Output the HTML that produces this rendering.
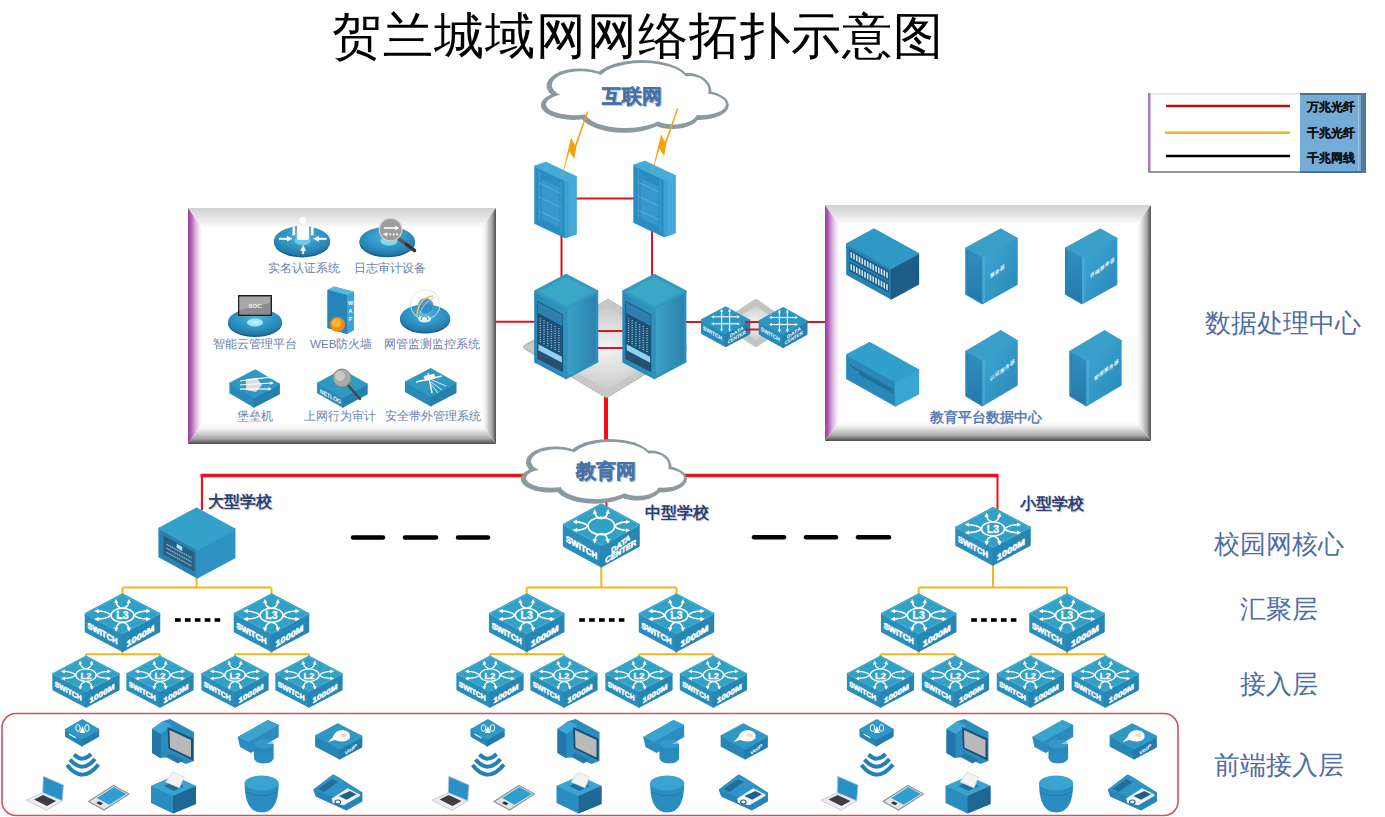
<!DOCTYPE html>
<html><head><meta charset="utf-8"><style>
html,body{margin:0;padding:0;background:#fff;width:1385px;height:817px;overflow:hidden}
svg{display:block}
text{font-family:"Liberation Sans",sans-serif}
</style></head><body>
<svg width="1385" height="817" viewBox="0 0 1385 817">

<defs>
<linearGradient id="gTop" x1="0" y1="0" x2="0" y2="1"><stop offset="0" stop-color="#d2d2d2"/><stop offset="0.35" stop-color="#e0e0e0"/><stop offset="0.75" stop-color="#f4f4f4"/><stop offset="1" stop-color="#fff" stop-opacity="0"/></linearGradient>
<linearGradient id="gLeft" x1="0" y1="0" x2="1" y2="0"><stop offset="0" stop-color="#98409c"/><stop offset="0.2" stop-color="#ad5cb2"/><stop offset="0.5" stop-color="#d8b4dc"/><stop offset="0.8" stop-color="#f6eef7"/><stop offset="1" stop-color="#fff" stop-opacity="0"/></linearGradient>
<linearGradient id="gRight" x1="0" y1="0" x2="1" y2="0"><stop offset="0" stop-color="#fff" stop-opacity="0"/><stop offset="0.35" stop-color="#ececec"/><stop offset="0.75" stop-color="#a6a6a6"/><stop offset="0.93" stop-color="#666"/><stop offset="1" stop-color="#4e4e4e"/></linearGradient>
<linearGradient id="gBot" x1="0" y1="0" x2="0" y2="1"><stop offset="0" stop-color="#fff" stop-opacity="0"/><stop offset="0.35" stop-color="#eeeeee"/><stop offset="0.75" stop-color="#a8a8a8"/><stop offset="0.92" stop-color="#676767"/><stop offset="1" stop-color="#4e4e4e"/></linearGradient>
<linearGradient id="gBolt" x1="0" y1="0" x2="0" y2="1"><stop offset="0" stop-color="#f6c23a"/><stop offset="1" stop-color="#f0900a"/></linearGradient>
<radialGradient id="gDiam" cx="0.5" cy="0.5" r="0.6"><stop offset="0" stop-color="#f4f4f4"/><stop offset="1" stop-color="#bdbdbd"/></radialGradient>
<radialGradient id="gEll" cx="0.5" cy="0.35" r="0.7"><stop offset="0" stop-color="#4fb3da"/><stop offset="0.6" stop-color="#2b8fbf"/><stop offset="1" stop-color="#1f6e9e"/></radialGradient>
<linearGradient id="gSrvR" x1="0" y1="0" x2="1" y2="0"><stop offset="0" stop-color="#3aa3c5"/><stop offset="1" stop-color="#2c80ae"/></linearGradient>
<linearGradient id="gSrvL" x1="0" y1="0" x2="1" y2="0"><stop offset="0" stop-color="#2a86b6"/><stop offset="1" stop-color="#2f95c0"/></linearGradient>
<linearGradient id="gTwR" x1="0" y1="0" x2="1" y2="1"><stop offset="0" stop-color="#3eaad5"/><stop offset="1" stop-color="#2a86b8"/></linearGradient>
<linearGradient id="gTwL" x1="0" y1="0" x2="0" y2="1"><stop offset="0" stop-color="#2f90c0"/><stop offset="1" stop-color="#2678aa"/></linearGradient>
<marker id="ah" viewBox="0 0 10 10" refX="5" refY="5" markerWidth="2.9" markerHeight="2.9" orient="auto-start-reverse"><path d="M0,0 L10,5 L0,10 z" fill="#fff"/></marker>
</defs>

<text x="332" y="53" font-size="50" font-weight="300" letter-spacing="1" fill="#000">贺兰城域网网络拓扑示意图</text>
<g fill="#4f6ea6" font-size="26" text-anchor="middle">
<text x="1283" y="332">数据处理中心</text>
<text x="1279" y="553">校园网核心</text>
<text x="1279" y="618">汇聚层</text>
<text x="1279" y="693">接入层</text>
<text x="1279" y="774">前端接入层</text>
</g>
<g>
<rect x="1148" y="93" width="218" height="80" fill="#fff"/>
<rect x="1148" y="93" width="152" height="1.5" fill="#e4e4e4"/>
<rect x="1148" y="93" width="2.5" height="80" fill="#a97cbb"/>
<rect x="1148" y="171" width="152" height="2" fill="#999"/>
<rect x="1300" y="93" width="66" height="80" fill="#74acd9"/>
<rect x="1300" y="93" width="66" height="2" fill="#4f7191"/>
<rect x="1300" y="171" width="66" height="2" fill="#4f7191"/>
<rect x="1361" y="93" width="5" height="80" fill="#5a7690"/><rect x="1358" y="95" width="1" height="76" fill="#9cc6e6"/>
<line x1="1166" y1="106" x2="1290" y2="106" stroke="#c00d0d" stroke-width="2.4"/>
<line x1="1165" y1="132.7" x2="1290" y2="132.7" stroke="#f2b224" stroke-width="2.4"/>
<line x1="1166" y1="156" x2="1290" y2="156" stroke="#000" stroke-width="2.4"/>
<g font-size="11.5" font-weight="bold" fill="#111" stroke="#111" stroke-width="0.25">
<text x="1307" y="110.5">万兆光纤</text>
<text x="1307" y="137">千兆光纤</text>
<text x="1307" y="161.5">千兆网线</text>
</g></g>
<rect x="188" y="208" width="308" height="236" fill="#fff"/><polygon points="188.0,208.0 496.0,208.0 480.0,230.0 203.0,230.0" fill="url(#gTop)"/><polygon points="496.0,208.0 496.0,444.0 480.0,422.0 480.0,230.0" fill="url(#gRight)"/><polygon points="188.0,444.0 496.0,444.0 480.0,422.0 203.0,422.0" fill="url(#gBot)"/><polygon points="188.0,208.0 203.0,230.0 203.0,422.0 188.0,444.0" fill="url(#gLeft)"/>
<rect x="825" y="205" width="326" height="236" fill="#fff"/><polygon points="825.0,205.0 1151.0,205.0 1135.0,227.0 840.0,227.0" fill="url(#gTop)"/><polygon points="1151.0,205.0 1151.0,441.0 1135.0,419.0 1135.0,227.0" fill="url(#gRight)"/><polygon points="825.0,441.0 1151.0,441.0 1135.0,419.0 840.0,419.0" fill="url(#gBot)"/><polygon points="825.0,205.0 840.0,227.0 840.0,419.0 825.0,441.0" fill="url(#gLeft)"/>
<g stroke="#d9161c" stroke-width="2" fill="none">
<line x1="564" y1="198.5" x2="634" y2="198.5"/>
<line x1="561.5" y1="225" x2="561.5" y2="292"/>
<line x1="652" y1="225" x2="652" y2="292"/>
<line x1="496" y1="321.7" x2="536" y2="321.7"/>
<line x1="685" y1="322" x2="825" y2="322"/>
</g>
<line x1="606" y1="395" x2="606" y2="444" stroke="#ee1111" stroke-width="4"/>
<line x1="200.5" y1="475.5" x2="998.5" y2="475.5" stroke="#e8141a" stroke-width="3.5"/><line x1="202" y1="475" x2="202" y2="510" stroke="#e8141a" stroke-width="2.2"/>
<line x1="606.5" y1="500" x2="606.5" y2="508" stroke="#d9161c" stroke-width="2"/>
<g stroke="#000" stroke-width="4.5" stroke-linecap="round">
<line x1="353" y1="537.4" x2="383" y2="537.4"/><line x1="405" y1="537.4" x2="436" y2="537.4"/><line x1="458" y1="537.4" x2="488" y2="537.4"/>
<line x1="754" y1="537.3" x2="784" y2="537.3"/><line x1="806" y1="537.3" x2="836" y2="537.3"/><line x1="858" y1="537.3" x2="889" y2="537.3"/>
</g>
<rect x="2" y="713.5" width="1176" height="102" rx="14" ry="14" fill="none" stroke="#d4505e" stroke-width="1.6"/>
<g stroke="#f1b61e" stroke-width="2" fill="none"><line x1="196.5" y1="560" x2="196.5" y2="587.6"/><line x1="122.5" y1="587.6" x2="271.5" y2="587.6"/><line x1="122.5" y1="587.6" x2="122.5" y2="597.6"/><line x1="271.5" y1="587.6" x2="271.5" y2="597.6"/></g>
<g stroke="#f1b61e" stroke-width="2" fill="none"><line x1="122.5" y1="645" x2="122.5" y2="654.3"/><line x1="86" y1="654.3" x2="160" y2="654.3"/><line x1="86" y1="654.3" x2="86" y2="659.7"/><line x1="160" y1="654.3" x2="160" y2="659.7"/></g>
<g stroke="#f1b61e" stroke-width="2" fill="none"><line x1="271.5" y1="645" x2="271.5" y2="654.3"/><line x1="235" y1="654.3" x2="309" y2="654.3"/><line x1="235" y1="654.3" x2="235" y2="659.7"/><line x1="309" y1="654.3" x2="309" y2="659.7"/></g>
<polygon points="86.0,613.9 122.5,633.2 122.5,650.7 86.0,631.4" fill="#2b8dba" stroke="#2b8dba" stroke-width="2.5" stroke-linejoin="round"/><polygon points="122.5,633.2 159.0,613.9 159.0,631.4 122.5,650.7" fill="#2786b2" stroke="#2786b2" stroke-width="2.5" stroke-linejoin="round"/><polygon points="122.5,594.6 159.0,613.9 122.5,633.2 86.0,613.9" fill="#33a0c6" stroke="#33a0c6" stroke-width="2.5" stroke-linejoin="round"/><polyline points="86.0,613.9 122.5,594.6 159.0,613.9" fill="none" stroke="#4fb2d8" stroke-width="0.90" stroke-linejoin="round" opacity="0.8"/><polyline points="86.0,613.9 122.5,633.2 159.0,613.9" fill="none" stroke="#5fbbe0" stroke-width="0.70" opacity="0.6"/><g transform="translate(122.50,594.60) scale(1.000,1.000)" fill="none" stroke="#fff" stroke-width="1.55" stroke-linecap="round"><ellipse cx="0" cy="20.7" rx="11.5" ry="7"/><path d="M-6.5,6.5 Q-6,12.7 0,13.7 Q6,12.7 6.5,6.5" marker-start="url(#ah)" marker-end="url(#ah)"/><path d="M-6.5,35 Q-6,28.7 0,27.7 Q6,28.7 6.5,35" marker-start="url(#ah)" marker-end="url(#ah)"/><path d="M-26,16.5 Q-15.5,16.5 -11.5,20.7 Q-15.5,24.5 -26,24.5" marker-start="url(#ah)" marker-end="url(#ah)"/><path d="M26,16.5 Q15.5,16.5 11.5,20.7 Q15.5,24.5 26,24.5" marker-start="url(#ah)" marker-end="url(#ah)"/></g><text x="122.50" y="619.10" font-size="10.50" font-weight="bold" fill="#fff" stroke="#fff" stroke-width="0.30" text-anchor="middle">L3</text><text transform="matrix(1,0.5514,0,1,87.50,627.90)" font-size="8.40" font-weight="bold" fill="#fff" stroke="#fff" stroke-width="0.55" lengthAdjust="spacingAndGlyphs" textLength="30.0">SWITCH</text><text transform="matrix(1,-0.5938,0,1,126.50,647.20)" font-size="8.40" font-weight="bold" fill="#fff" stroke="#fff" stroke-width="0.55" lengthAdjust="spacingAndGlyphs" textLength="28.0">1000M</text>
<polygon points="235.0,613.9 271.5,633.2 271.5,650.7 235.0,631.4" fill="#2b8dba" stroke="#2b8dba" stroke-width="2.5" stroke-linejoin="round"/><polygon points="271.5,633.2 308.0,613.9 308.0,631.4 271.5,650.7" fill="#2786b2" stroke="#2786b2" stroke-width="2.5" stroke-linejoin="round"/><polygon points="271.5,594.6 308.0,613.9 271.5,633.2 235.0,613.9" fill="#33a0c6" stroke="#33a0c6" stroke-width="2.5" stroke-linejoin="round"/><polyline points="235.0,613.9 271.5,594.6 308.0,613.9" fill="none" stroke="#4fb2d8" stroke-width="0.90" stroke-linejoin="round" opacity="0.8"/><polyline points="235.0,613.9 271.5,633.2 308.0,613.9" fill="none" stroke="#5fbbe0" stroke-width="0.70" opacity="0.6"/><g transform="translate(271.50,594.60) scale(1.000,1.000)" fill="none" stroke="#fff" stroke-width="1.55" stroke-linecap="round"><ellipse cx="0" cy="20.7" rx="11.5" ry="7"/><path d="M-6.5,6.5 Q-6,12.7 0,13.7 Q6,12.7 6.5,6.5" marker-start="url(#ah)" marker-end="url(#ah)"/><path d="M-6.5,35 Q-6,28.7 0,27.7 Q6,28.7 6.5,35" marker-start="url(#ah)" marker-end="url(#ah)"/><path d="M-26,16.5 Q-15.5,16.5 -11.5,20.7 Q-15.5,24.5 -26,24.5" marker-start="url(#ah)" marker-end="url(#ah)"/><path d="M26,16.5 Q15.5,16.5 11.5,20.7 Q15.5,24.5 26,24.5" marker-start="url(#ah)" marker-end="url(#ah)"/></g><text x="271.50" y="619.10" font-size="10.50" font-weight="bold" fill="#fff" stroke="#fff" stroke-width="0.30" text-anchor="middle">L3</text><text transform="matrix(1,0.5514,0,1,236.50,627.90)" font-size="8.40" font-weight="bold" fill="#fff" stroke="#fff" stroke-width="0.55" lengthAdjust="spacingAndGlyphs" textLength="30.0">SWITCH</text><text transform="matrix(1,-0.5938,0,1,275.50,647.20)" font-size="8.40" font-weight="bold" fill="#fff" stroke="#fff" stroke-width="0.55" lengthAdjust="spacingAndGlyphs" textLength="28.0">1000M</text>
<g stroke="#000" stroke-width="3.6"><line x1="175.0" y1="620" x2="180.7" y2="620"/><line x1="184.9" y1="620" x2="190.6" y2="620"/><line x1="194.8" y1="620" x2="200.5" y2="620"/><line x1="204.7" y1="620" x2="210.4" y2="620"/><line x1="214.6" y1="620" x2="220.2" y2="620"/></g>
<polygon points="53.5,673.9 86.0,691.1 86.0,706.6 53.5,689.5" fill="#2b8dba" stroke="#2b8dba" stroke-width="2.225" stroke-linejoin="round"/><polygon points="86.0,691.1 118.5,673.9 118.5,689.5 86.0,706.6" fill="#2786b2" stroke="#2786b2" stroke-width="2.225" stroke-linejoin="round"/><polygon points="86.0,656.7 118.5,673.9 86.0,691.1 53.5,673.9" fill="#33a0c6" stroke="#33a0c6" stroke-width="2.225" stroke-linejoin="round"/><polyline points="53.5,673.9 86.0,656.7 118.5,673.9" fill="none" stroke="#4fb2d8" stroke-width="0.80" stroke-linejoin="round" opacity="0.8"/><polyline points="53.5,673.9 86.0,691.1 118.5,673.9" fill="none" stroke="#5fbbe0" stroke-width="0.62" opacity="0.6"/><g transform="translate(86.00,656.70) scale(0.890,0.890)" fill="none" stroke="#fff" stroke-width="1.55" stroke-linecap="round"><ellipse cx="0" cy="20.7" rx="11.5" ry="7"/><path d="M-6.5,6.5 Q-6,12.7 0,13.7 Q6,12.7 6.5,6.5" marker-start="url(#ah)" marker-end="url(#ah)"/><path d="M-6.5,35 Q-6,28.7 0,27.7 Q6,28.7 6.5,35" marker-start="url(#ah)" marker-end="url(#ah)"/><path d="M-26,16.5 Q-15.5,16.5 -11.5,20.7 Q-15.5,24.5 -26,24.5" marker-start="url(#ah)" marker-end="url(#ah)"/><path d="M26,16.5 Q15.5,16.5 11.5,20.7 Q15.5,24.5 26,24.5" marker-start="url(#ah)" marker-end="url(#ah)"/></g><text x="86.00" y="678.50" font-size="9.35" font-weight="bold" fill="#fff" stroke="#fff" stroke-width="0.27" text-anchor="middle">L2</text><text transform="matrix(1,0.5514,0,1,54.85,686.34)" font-size="7.48" font-weight="bold" fill="#fff" stroke="#fff" stroke-width="0.49" lengthAdjust="spacingAndGlyphs" textLength="26.7">SWITCH</text><text transform="matrix(1,-0.5938,0,1,89.56,703.51)" font-size="7.48" font-weight="bold" fill="#fff" stroke="#fff" stroke-width="0.49" lengthAdjust="spacingAndGlyphs" textLength="24.9">1000M</text>
<polygon points="127.5,673.9 160.0,691.1 160.0,706.6 127.5,689.5" fill="#2b8dba" stroke="#2b8dba" stroke-width="2.225" stroke-linejoin="round"/><polygon points="160.0,691.1 192.5,673.9 192.5,689.5 160.0,706.6" fill="#2786b2" stroke="#2786b2" stroke-width="2.225" stroke-linejoin="round"/><polygon points="160.0,656.7 192.5,673.9 160.0,691.1 127.5,673.9" fill="#33a0c6" stroke="#33a0c6" stroke-width="2.225" stroke-linejoin="round"/><polyline points="127.5,673.9 160.0,656.7 192.5,673.9" fill="none" stroke="#4fb2d8" stroke-width="0.80" stroke-linejoin="round" opacity="0.8"/><polyline points="127.5,673.9 160.0,691.1 192.5,673.9" fill="none" stroke="#5fbbe0" stroke-width="0.62" opacity="0.6"/><g transform="translate(160.00,656.70) scale(0.890,0.890)" fill="none" stroke="#fff" stroke-width="1.55" stroke-linecap="round"><ellipse cx="0" cy="20.7" rx="11.5" ry="7"/><path d="M-6.5,6.5 Q-6,12.7 0,13.7 Q6,12.7 6.5,6.5" marker-start="url(#ah)" marker-end="url(#ah)"/><path d="M-6.5,35 Q-6,28.7 0,27.7 Q6,28.7 6.5,35" marker-start="url(#ah)" marker-end="url(#ah)"/><path d="M-26,16.5 Q-15.5,16.5 -11.5,20.7 Q-15.5,24.5 -26,24.5" marker-start="url(#ah)" marker-end="url(#ah)"/><path d="M26,16.5 Q15.5,16.5 11.5,20.7 Q15.5,24.5 26,24.5" marker-start="url(#ah)" marker-end="url(#ah)"/></g><text x="160.00" y="678.50" font-size="9.35" font-weight="bold" fill="#fff" stroke="#fff" stroke-width="0.27" text-anchor="middle">L2</text><text transform="matrix(1,0.5514,0,1,128.85,686.34)" font-size="7.48" font-weight="bold" fill="#fff" stroke="#fff" stroke-width="0.49" lengthAdjust="spacingAndGlyphs" textLength="26.7">SWITCH</text><text transform="matrix(1,-0.5938,0,1,163.56,703.51)" font-size="7.48" font-weight="bold" fill="#fff" stroke="#fff" stroke-width="0.49" lengthAdjust="spacingAndGlyphs" textLength="24.9">1000M</text>
<polygon points="202.5,673.9 235.0,691.1 235.0,706.6 202.5,689.5" fill="#2b8dba" stroke="#2b8dba" stroke-width="2.225" stroke-linejoin="round"/><polygon points="235.0,691.1 267.5,673.9 267.5,689.5 235.0,706.6" fill="#2786b2" stroke="#2786b2" stroke-width="2.225" stroke-linejoin="round"/><polygon points="235.0,656.7 267.5,673.9 235.0,691.1 202.5,673.9" fill="#33a0c6" stroke="#33a0c6" stroke-width="2.225" stroke-linejoin="round"/><polyline points="202.5,673.9 235.0,656.7 267.5,673.9" fill="none" stroke="#4fb2d8" stroke-width="0.80" stroke-linejoin="round" opacity="0.8"/><polyline points="202.5,673.9 235.0,691.1 267.5,673.9" fill="none" stroke="#5fbbe0" stroke-width="0.62" opacity="0.6"/><g transform="translate(235.00,656.70) scale(0.890,0.890)" fill="none" stroke="#fff" stroke-width="1.55" stroke-linecap="round"><ellipse cx="0" cy="20.7" rx="11.5" ry="7"/><path d="M-6.5,6.5 Q-6,12.7 0,13.7 Q6,12.7 6.5,6.5" marker-start="url(#ah)" marker-end="url(#ah)"/><path d="M-6.5,35 Q-6,28.7 0,27.7 Q6,28.7 6.5,35" marker-start="url(#ah)" marker-end="url(#ah)"/><path d="M-26,16.5 Q-15.5,16.5 -11.5,20.7 Q-15.5,24.5 -26,24.5" marker-start="url(#ah)" marker-end="url(#ah)"/><path d="M26,16.5 Q15.5,16.5 11.5,20.7 Q15.5,24.5 26,24.5" marker-start="url(#ah)" marker-end="url(#ah)"/></g><text x="235.00" y="678.50" font-size="9.35" font-weight="bold" fill="#fff" stroke="#fff" stroke-width="0.27" text-anchor="middle">L2</text><text transform="matrix(1,0.5514,0,1,203.85,686.34)" font-size="7.48" font-weight="bold" fill="#fff" stroke="#fff" stroke-width="0.49" lengthAdjust="spacingAndGlyphs" textLength="26.7">SWITCH</text><text transform="matrix(1,-0.5938,0,1,238.56,703.51)" font-size="7.48" font-weight="bold" fill="#fff" stroke="#fff" stroke-width="0.49" lengthAdjust="spacingAndGlyphs" textLength="24.9">1000M</text>
<polygon points="276.5,673.9 309.0,691.1 309.0,706.6 276.5,689.5" fill="#2b8dba" stroke="#2b8dba" stroke-width="2.225" stroke-linejoin="round"/><polygon points="309.0,691.1 341.5,673.9 341.5,689.5 309.0,706.6" fill="#2786b2" stroke="#2786b2" stroke-width="2.225" stroke-linejoin="round"/><polygon points="309.0,656.7 341.5,673.9 309.0,691.1 276.5,673.9" fill="#33a0c6" stroke="#33a0c6" stroke-width="2.225" stroke-linejoin="round"/><polyline points="276.5,673.9 309.0,656.7 341.5,673.9" fill="none" stroke="#4fb2d8" stroke-width="0.80" stroke-linejoin="round" opacity="0.8"/><polyline points="276.5,673.9 309.0,691.1 341.5,673.9" fill="none" stroke="#5fbbe0" stroke-width="0.62" opacity="0.6"/><g transform="translate(309.00,656.70) scale(0.890,0.890)" fill="none" stroke="#fff" stroke-width="1.55" stroke-linecap="round"><ellipse cx="0" cy="20.7" rx="11.5" ry="7"/><path d="M-6.5,6.5 Q-6,12.7 0,13.7 Q6,12.7 6.5,6.5" marker-start="url(#ah)" marker-end="url(#ah)"/><path d="M-6.5,35 Q-6,28.7 0,27.7 Q6,28.7 6.5,35" marker-start="url(#ah)" marker-end="url(#ah)"/><path d="M-26,16.5 Q-15.5,16.5 -11.5,20.7 Q-15.5,24.5 -26,24.5" marker-start="url(#ah)" marker-end="url(#ah)"/><path d="M26,16.5 Q15.5,16.5 11.5,20.7 Q15.5,24.5 26,24.5" marker-start="url(#ah)" marker-end="url(#ah)"/></g><text x="309.00" y="678.50" font-size="9.35" font-weight="bold" fill="#fff" stroke="#fff" stroke-width="0.27" text-anchor="middle">L2</text><text transform="matrix(1,0.5514,0,1,277.85,686.34)" font-size="7.48" font-weight="bold" fill="#fff" stroke="#fff" stroke-width="0.49" lengthAdjust="spacingAndGlyphs" textLength="26.7">SWITCH</text><text transform="matrix(1,-0.5938,0,1,312.56,703.51)" font-size="7.48" font-weight="bold" fill="#fff" stroke="#fff" stroke-width="0.49" lengthAdjust="spacingAndGlyphs" textLength="24.9">1000M</text>
<g stroke="#f1b61e" stroke-width="2" fill="none"><line x1="601.3" y1="560" x2="601.3" y2="587.6"/><line x1="526.7" y1="587.6" x2="676.5" y2="587.6"/><line x1="526.7" y1="587.6" x2="526.7" y2="597.6"/><line x1="676.5" y1="587.6" x2="676.5" y2="597.6"/></g>
<g stroke="#f1b61e" stroke-width="2" fill="none"><line x1="526.7" y1="645" x2="526.7" y2="654.3"/><line x1="490" y1="654.3" x2="564" y2="654.3"/><line x1="490" y1="654.3" x2="490" y2="659.7"/><line x1="564" y1="654.3" x2="564" y2="659.7"/></g>
<g stroke="#f1b61e" stroke-width="2" fill="none"><line x1="676.5" y1="645" x2="676.5" y2="654.3"/><line x1="639" y1="654.3" x2="713.4" y2="654.3"/><line x1="639" y1="654.3" x2="639" y2="659.7"/><line x1="713.4" y1="654.3" x2="713.4" y2="659.7"/></g>
<polygon points="490.2,613.9 526.7,633.2 526.7,650.7 490.2,631.4" fill="#2b8dba" stroke="#2b8dba" stroke-width="2.5" stroke-linejoin="round"/><polygon points="526.7,633.2 563.2,613.9 563.2,631.4 526.7,650.7" fill="#2786b2" stroke="#2786b2" stroke-width="2.5" stroke-linejoin="round"/><polygon points="526.7,594.6 563.2,613.9 526.7,633.2 490.2,613.9" fill="#33a0c6" stroke="#33a0c6" stroke-width="2.5" stroke-linejoin="round"/><polyline points="490.2,613.9 526.7,594.6 563.2,613.9" fill="none" stroke="#4fb2d8" stroke-width="0.90" stroke-linejoin="round" opacity="0.8"/><polyline points="490.2,613.9 526.7,633.2 563.2,613.9" fill="none" stroke="#5fbbe0" stroke-width="0.70" opacity="0.6"/><g transform="translate(526.70,594.60) scale(1.000,1.000)" fill="none" stroke="#fff" stroke-width="1.55" stroke-linecap="round"><ellipse cx="0" cy="20.7" rx="11.5" ry="7"/><path d="M-6.5,6.5 Q-6,12.7 0,13.7 Q6,12.7 6.5,6.5" marker-start="url(#ah)" marker-end="url(#ah)"/><path d="M-6.5,35 Q-6,28.7 0,27.7 Q6,28.7 6.5,35" marker-start="url(#ah)" marker-end="url(#ah)"/><path d="M-26,16.5 Q-15.5,16.5 -11.5,20.7 Q-15.5,24.5 -26,24.5" marker-start="url(#ah)" marker-end="url(#ah)"/><path d="M26,16.5 Q15.5,16.5 11.5,20.7 Q15.5,24.5 26,24.5" marker-start="url(#ah)" marker-end="url(#ah)"/></g><text x="526.70" y="619.10" font-size="10.50" font-weight="bold" fill="#fff" stroke="#fff" stroke-width="0.30" text-anchor="middle">L3</text><text transform="matrix(1,0.5514,0,1,491.70,627.90)" font-size="8.40" font-weight="bold" fill="#fff" stroke="#fff" stroke-width="0.55" lengthAdjust="spacingAndGlyphs" textLength="30.0">SWITCH</text><text transform="matrix(1,-0.5938,0,1,530.70,647.20)" font-size="8.40" font-weight="bold" fill="#fff" stroke="#fff" stroke-width="0.55" lengthAdjust="spacingAndGlyphs" textLength="28.0">1000M</text>
<polygon points="640.0,613.9 676.5,633.2 676.5,650.7 640.0,631.4" fill="#2b8dba" stroke="#2b8dba" stroke-width="2.5" stroke-linejoin="round"/><polygon points="676.5,633.2 713.0,613.9 713.0,631.4 676.5,650.7" fill="#2786b2" stroke="#2786b2" stroke-width="2.5" stroke-linejoin="round"/><polygon points="676.5,594.6 713.0,613.9 676.5,633.2 640.0,613.9" fill="#33a0c6" stroke="#33a0c6" stroke-width="2.5" stroke-linejoin="round"/><polyline points="640.0,613.9 676.5,594.6 713.0,613.9" fill="none" stroke="#4fb2d8" stroke-width="0.90" stroke-linejoin="round" opacity="0.8"/><polyline points="640.0,613.9 676.5,633.2 713.0,613.9" fill="none" stroke="#5fbbe0" stroke-width="0.70" opacity="0.6"/><g transform="translate(676.50,594.60) scale(1.000,1.000)" fill="none" stroke="#fff" stroke-width="1.55" stroke-linecap="round"><ellipse cx="0" cy="20.7" rx="11.5" ry="7"/><path d="M-6.5,6.5 Q-6,12.7 0,13.7 Q6,12.7 6.5,6.5" marker-start="url(#ah)" marker-end="url(#ah)"/><path d="M-6.5,35 Q-6,28.7 0,27.7 Q6,28.7 6.5,35" marker-start="url(#ah)" marker-end="url(#ah)"/><path d="M-26,16.5 Q-15.5,16.5 -11.5,20.7 Q-15.5,24.5 -26,24.5" marker-start="url(#ah)" marker-end="url(#ah)"/><path d="M26,16.5 Q15.5,16.5 11.5,20.7 Q15.5,24.5 26,24.5" marker-start="url(#ah)" marker-end="url(#ah)"/></g><text x="676.50" y="619.10" font-size="10.50" font-weight="bold" fill="#fff" stroke="#fff" stroke-width="0.30" text-anchor="middle">L3</text><text transform="matrix(1,0.5514,0,1,641.50,627.90)" font-size="8.40" font-weight="bold" fill="#fff" stroke="#fff" stroke-width="0.55" lengthAdjust="spacingAndGlyphs" textLength="30.0">SWITCH</text><text transform="matrix(1,-0.5938,0,1,680.50,647.20)" font-size="8.40" font-weight="bold" fill="#fff" stroke="#fff" stroke-width="0.55" lengthAdjust="spacingAndGlyphs" textLength="28.0">1000M</text>
<g stroke="#000" stroke-width="3.6"><line x1="579.2" y1="620" x2="584.9" y2="620"/><line x1="589.1" y1="620" x2="594.8" y2="620"/><line x1="599.0" y1="620" x2="604.7" y2="620"/><line x1="608.9" y1="620" x2="614.6" y2="620"/><line x1="618.8" y1="620" x2="624.4" y2="620"/></g>
<polygon points="457.5,673.9 490.0,691.1 490.0,706.6 457.5,689.5" fill="#2b8dba" stroke="#2b8dba" stroke-width="2.225" stroke-linejoin="round"/><polygon points="490.0,691.1 522.5,673.9 522.5,689.5 490.0,706.6" fill="#2786b2" stroke="#2786b2" stroke-width="2.225" stroke-linejoin="round"/><polygon points="490.0,656.7 522.5,673.9 490.0,691.1 457.5,673.9" fill="#33a0c6" stroke="#33a0c6" stroke-width="2.225" stroke-linejoin="round"/><polyline points="457.5,673.9 490.0,656.7 522.5,673.9" fill="none" stroke="#4fb2d8" stroke-width="0.80" stroke-linejoin="round" opacity="0.8"/><polyline points="457.5,673.9 490.0,691.1 522.5,673.9" fill="none" stroke="#5fbbe0" stroke-width="0.62" opacity="0.6"/><g transform="translate(490.00,656.70) scale(0.890,0.890)" fill="none" stroke="#fff" stroke-width="1.55" stroke-linecap="round"><ellipse cx="0" cy="20.7" rx="11.5" ry="7"/><path d="M-6.5,6.5 Q-6,12.7 0,13.7 Q6,12.7 6.5,6.5" marker-start="url(#ah)" marker-end="url(#ah)"/><path d="M-6.5,35 Q-6,28.7 0,27.7 Q6,28.7 6.5,35" marker-start="url(#ah)" marker-end="url(#ah)"/><path d="M-26,16.5 Q-15.5,16.5 -11.5,20.7 Q-15.5,24.5 -26,24.5" marker-start="url(#ah)" marker-end="url(#ah)"/><path d="M26,16.5 Q15.5,16.5 11.5,20.7 Q15.5,24.5 26,24.5" marker-start="url(#ah)" marker-end="url(#ah)"/></g><text x="490.00" y="678.50" font-size="9.35" font-weight="bold" fill="#fff" stroke="#fff" stroke-width="0.27" text-anchor="middle">L2</text><text transform="matrix(1,0.5514,0,1,458.85,686.34)" font-size="7.48" font-weight="bold" fill="#fff" stroke="#fff" stroke-width="0.49" lengthAdjust="spacingAndGlyphs" textLength="26.7">SWITCH</text><text transform="matrix(1,-0.5938,0,1,493.56,703.51)" font-size="7.48" font-weight="bold" fill="#fff" stroke="#fff" stroke-width="0.49" lengthAdjust="spacingAndGlyphs" textLength="24.9">1000M</text>
<polygon points="531.5,673.9 564.0,691.1 564.0,706.6 531.5,689.5" fill="#2b8dba" stroke="#2b8dba" stroke-width="2.225" stroke-linejoin="round"/><polygon points="564.0,691.1 596.5,673.9 596.5,689.5 564.0,706.6" fill="#2786b2" stroke="#2786b2" stroke-width="2.225" stroke-linejoin="round"/><polygon points="564.0,656.7 596.5,673.9 564.0,691.1 531.5,673.9" fill="#33a0c6" stroke="#33a0c6" stroke-width="2.225" stroke-linejoin="round"/><polyline points="531.5,673.9 564.0,656.7 596.5,673.9" fill="none" stroke="#4fb2d8" stroke-width="0.80" stroke-linejoin="round" opacity="0.8"/><polyline points="531.5,673.9 564.0,691.1 596.5,673.9" fill="none" stroke="#5fbbe0" stroke-width="0.62" opacity="0.6"/><g transform="translate(564.00,656.70) scale(0.890,0.890)" fill="none" stroke="#fff" stroke-width="1.55" stroke-linecap="round"><ellipse cx="0" cy="20.7" rx="11.5" ry="7"/><path d="M-6.5,6.5 Q-6,12.7 0,13.7 Q6,12.7 6.5,6.5" marker-start="url(#ah)" marker-end="url(#ah)"/><path d="M-6.5,35 Q-6,28.7 0,27.7 Q6,28.7 6.5,35" marker-start="url(#ah)" marker-end="url(#ah)"/><path d="M-26,16.5 Q-15.5,16.5 -11.5,20.7 Q-15.5,24.5 -26,24.5" marker-start="url(#ah)" marker-end="url(#ah)"/><path d="M26,16.5 Q15.5,16.5 11.5,20.7 Q15.5,24.5 26,24.5" marker-start="url(#ah)" marker-end="url(#ah)"/></g><text x="564.00" y="678.50" font-size="9.35" font-weight="bold" fill="#fff" stroke="#fff" stroke-width="0.27" text-anchor="middle">L2</text><text transform="matrix(1,0.5514,0,1,532.85,686.34)" font-size="7.48" font-weight="bold" fill="#fff" stroke="#fff" stroke-width="0.49" lengthAdjust="spacingAndGlyphs" textLength="26.7">SWITCH</text><text transform="matrix(1,-0.5938,0,1,567.56,703.51)" font-size="7.48" font-weight="bold" fill="#fff" stroke="#fff" stroke-width="0.49" lengthAdjust="spacingAndGlyphs" textLength="24.9">1000M</text>
<polygon points="606.5,673.9 639.0,691.1 639.0,706.6 606.5,689.5" fill="#2b8dba" stroke="#2b8dba" stroke-width="2.225" stroke-linejoin="round"/><polygon points="639.0,691.1 671.5,673.9 671.5,689.5 639.0,706.6" fill="#2786b2" stroke="#2786b2" stroke-width="2.225" stroke-linejoin="round"/><polygon points="639.0,656.7 671.5,673.9 639.0,691.1 606.5,673.9" fill="#33a0c6" stroke="#33a0c6" stroke-width="2.225" stroke-linejoin="round"/><polyline points="606.5,673.9 639.0,656.7 671.5,673.9" fill="none" stroke="#4fb2d8" stroke-width="0.80" stroke-linejoin="round" opacity="0.8"/><polyline points="606.5,673.9 639.0,691.1 671.5,673.9" fill="none" stroke="#5fbbe0" stroke-width="0.62" opacity="0.6"/><g transform="translate(639.00,656.70) scale(0.890,0.890)" fill="none" stroke="#fff" stroke-width="1.55" stroke-linecap="round"><ellipse cx="0" cy="20.7" rx="11.5" ry="7"/><path d="M-6.5,6.5 Q-6,12.7 0,13.7 Q6,12.7 6.5,6.5" marker-start="url(#ah)" marker-end="url(#ah)"/><path d="M-6.5,35 Q-6,28.7 0,27.7 Q6,28.7 6.5,35" marker-start="url(#ah)" marker-end="url(#ah)"/><path d="M-26,16.5 Q-15.5,16.5 -11.5,20.7 Q-15.5,24.5 -26,24.5" marker-start="url(#ah)" marker-end="url(#ah)"/><path d="M26,16.5 Q15.5,16.5 11.5,20.7 Q15.5,24.5 26,24.5" marker-start="url(#ah)" marker-end="url(#ah)"/></g><text x="639.00" y="678.50" font-size="9.35" font-weight="bold" fill="#fff" stroke="#fff" stroke-width="0.27" text-anchor="middle">L2</text><text transform="matrix(1,0.5514,0,1,607.85,686.34)" font-size="7.48" font-weight="bold" fill="#fff" stroke="#fff" stroke-width="0.49" lengthAdjust="spacingAndGlyphs" textLength="26.7">SWITCH</text><text transform="matrix(1,-0.5938,0,1,642.56,703.51)" font-size="7.48" font-weight="bold" fill="#fff" stroke="#fff" stroke-width="0.49" lengthAdjust="spacingAndGlyphs" textLength="24.9">1000M</text>
<polygon points="680.9,673.9 713.4,691.1 713.4,706.6 680.9,689.5" fill="#2b8dba" stroke="#2b8dba" stroke-width="2.225" stroke-linejoin="round"/><polygon points="713.4,691.1 745.9,673.9 745.9,689.5 713.4,706.6" fill="#2786b2" stroke="#2786b2" stroke-width="2.225" stroke-linejoin="round"/><polygon points="713.4,656.7 745.9,673.9 713.4,691.1 680.9,673.9" fill="#33a0c6" stroke="#33a0c6" stroke-width="2.225" stroke-linejoin="round"/><polyline points="680.9,673.9 713.4,656.7 745.9,673.9" fill="none" stroke="#4fb2d8" stroke-width="0.80" stroke-linejoin="round" opacity="0.8"/><polyline points="680.9,673.9 713.4,691.1 745.9,673.9" fill="none" stroke="#5fbbe0" stroke-width="0.62" opacity="0.6"/><g transform="translate(713.40,656.70) scale(0.890,0.890)" fill="none" stroke="#fff" stroke-width="1.55" stroke-linecap="round"><ellipse cx="0" cy="20.7" rx="11.5" ry="7"/><path d="M-6.5,6.5 Q-6,12.7 0,13.7 Q6,12.7 6.5,6.5" marker-start="url(#ah)" marker-end="url(#ah)"/><path d="M-6.5,35 Q-6,28.7 0,27.7 Q6,28.7 6.5,35" marker-start="url(#ah)" marker-end="url(#ah)"/><path d="M-26,16.5 Q-15.5,16.5 -11.5,20.7 Q-15.5,24.5 -26,24.5" marker-start="url(#ah)" marker-end="url(#ah)"/><path d="M26,16.5 Q15.5,16.5 11.5,20.7 Q15.5,24.5 26,24.5" marker-start="url(#ah)" marker-end="url(#ah)"/></g><text x="713.40" y="678.50" font-size="9.35" font-weight="bold" fill="#fff" stroke="#fff" stroke-width="0.27" text-anchor="middle">L2</text><text transform="matrix(1,0.5514,0,1,682.25,686.34)" font-size="7.48" font-weight="bold" fill="#fff" stroke="#fff" stroke-width="0.49" lengthAdjust="spacingAndGlyphs" textLength="26.7">SWITCH</text><text transform="matrix(1,-0.5938,0,1,716.96,703.51)" font-size="7.48" font-weight="bold" fill="#fff" stroke="#fff" stroke-width="0.49" lengthAdjust="spacingAndGlyphs" textLength="24.9">1000M</text>
<g stroke="#f1b61e" stroke-width="2" fill="none"><line x1="993" y1="560" x2="993" y2="587.6"/><line x1="918.7" y1="587.6" x2="1067" y2="587.6"/><line x1="918.7" y1="587.6" x2="918.7" y2="597.6"/><line x1="1067" y1="587.6" x2="1067" y2="597.6"/></g>
<g stroke="#f1b61e" stroke-width="2" fill="none"><line x1="918.7" y1="645" x2="918.7" y2="654.3"/><line x1="880.5" y1="654.3" x2="955.4" y2="654.3"/><line x1="880.5" y1="654.3" x2="880.5" y2="659.7"/><line x1="955.4" y1="654.3" x2="955.4" y2="659.7"/></g>
<g stroke="#f1b61e" stroke-width="2" fill="none"><line x1="1067" y1="645" x2="1067" y2="654.3"/><line x1="1030.4" y1="654.3" x2="1105.3" y2="654.3"/><line x1="1030.4" y1="654.3" x2="1030.4" y2="659.7"/><line x1="1105.3" y1="654.3" x2="1105.3" y2="659.7"/></g>
<polygon points="882.2,613.9 918.7,633.2 918.7,650.7 882.2,631.4" fill="#2b8dba" stroke="#2b8dba" stroke-width="2.5" stroke-linejoin="round"/><polygon points="918.7,633.2 955.2,613.9 955.2,631.4 918.7,650.7" fill="#2786b2" stroke="#2786b2" stroke-width="2.5" stroke-linejoin="round"/><polygon points="918.7,594.6 955.2,613.9 918.7,633.2 882.2,613.9" fill="#33a0c6" stroke="#33a0c6" stroke-width="2.5" stroke-linejoin="round"/><polyline points="882.2,613.9 918.7,594.6 955.2,613.9" fill="none" stroke="#4fb2d8" stroke-width="0.90" stroke-linejoin="round" opacity="0.8"/><polyline points="882.2,613.9 918.7,633.2 955.2,613.9" fill="none" stroke="#5fbbe0" stroke-width="0.70" opacity="0.6"/><g transform="translate(918.70,594.60) scale(1.000,1.000)" fill="none" stroke="#fff" stroke-width="1.55" stroke-linecap="round"><ellipse cx="0" cy="20.7" rx="11.5" ry="7"/><path d="M-6.5,6.5 Q-6,12.7 0,13.7 Q6,12.7 6.5,6.5" marker-start="url(#ah)" marker-end="url(#ah)"/><path d="M-6.5,35 Q-6,28.7 0,27.7 Q6,28.7 6.5,35" marker-start="url(#ah)" marker-end="url(#ah)"/><path d="M-26,16.5 Q-15.5,16.5 -11.5,20.7 Q-15.5,24.5 -26,24.5" marker-start="url(#ah)" marker-end="url(#ah)"/><path d="M26,16.5 Q15.5,16.5 11.5,20.7 Q15.5,24.5 26,24.5" marker-start="url(#ah)" marker-end="url(#ah)"/></g><text x="918.70" y="619.10" font-size="10.50" font-weight="bold" fill="#fff" stroke="#fff" stroke-width="0.30" text-anchor="middle">L3</text><text transform="matrix(1,0.5514,0,1,883.70,627.90)" font-size="8.40" font-weight="bold" fill="#fff" stroke="#fff" stroke-width="0.55" lengthAdjust="spacingAndGlyphs" textLength="30.0">SWITCH</text><text transform="matrix(1,-0.5938,0,1,922.70,647.20)" font-size="8.40" font-weight="bold" fill="#fff" stroke="#fff" stroke-width="0.55" lengthAdjust="spacingAndGlyphs" textLength="28.0">1000M</text>
<polygon points="1030.5,613.9 1067.0,633.2 1067.0,650.7 1030.5,631.4" fill="#2b8dba" stroke="#2b8dba" stroke-width="2.5" stroke-linejoin="round"/><polygon points="1067.0,633.2 1103.5,613.9 1103.5,631.4 1067.0,650.7" fill="#2786b2" stroke="#2786b2" stroke-width="2.5" stroke-linejoin="round"/><polygon points="1067.0,594.6 1103.5,613.9 1067.0,633.2 1030.5,613.9" fill="#33a0c6" stroke="#33a0c6" stroke-width="2.5" stroke-linejoin="round"/><polyline points="1030.5,613.9 1067.0,594.6 1103.5,613.9" fill="none" stroke="#4fb2d8" stroke-width="0.90" stroke-linejoin="round" opacity="0.8"/><polyline points="1030.5,613.9 1067.0,633.2 1103.5,613.9" fill="none" stroke="#5fbbe0" stroke-width="0.70" opacity="0.6"/><g transform="translate(1067.00,594.60) scale(1.000,1.000)" fill="none" stroke="#fff" stroke-width="1.55" stroke-linecap="round"><ellipse cx="0" cy="20.7" rx="11.5" ry="7"/><path d="M-6.5,6.5 Q-6,12.7 0,13.7 Q6,12.7 6.5,6.5" marker-start="url(#ah)" marker-end="url(#ah)"/><path d="M-6.5,35 Q-6,28.7 0,27.7 Q6,28.7 6.5,35" marker-start="url(#ah)" marker-end="url(#ah)"/><path d="M-26,16.5 Q-15.5,16.5 -11.5,20.7 Q-15.5,24.5 -26,24.5" marker-start="url(#ah)" marker-end="url(#ah)"/><path d="M26,16.5 Q15.5,16.5 11.5,20.7 Q15.5,24.5 26,24.5" marker-start="url(#ah)" marker-end="url(#ah)"/></g><text x="1067.00" y="619.10" font-size="10.50" font-weight="bold" fill="#fff" stroke="#fff" stroke-width="0.30" text-anchor="middle">L3</text><text transform="matrix(1,0.5514,0,1,1032.00,627.90)" font-size="8.40" font-weight="bold" fill="#fff" stroke="#fff" stroke-width="0.55" lengthAdjust="spacingAndGlyphs" textLength="30.0">SWITCH</text><text transform="matrix(1,-0.5938,0,1,1071.00,647.20)" font-size="8.40" font-weight="bold" fill="#fff" stroke="#fff" stroke-width="0.55" lengthAdjust="spacingAndGlyphs" textLength="28.0">1000M</text>
<g stroke="#000" stroke-width="3.6"><line x1="971.2" y1="620" x2="976.9" y2="620"/><line x1="981.1" y1="620" x2="986.8" y2="620"/><line x1="991.0" y1="620" x2="996.7" y2="620"/><line x1="1000.9" y1="620" x2="1006.6" y2="620"/><line x1="1010.8" y1="620" x2="1016.4" y2="620"/></g>
<polygon points="848.0,673.9 880.5,691.1 880.5,706.6 848.0,689.5" fill="#2b8dba" stroke="#2b8dba" stroke-width="2.225" stroke-linejoin="round"/><polygon points="880.5,691.1 913.0,673.9 913.0,689.5 880.5,706.6" fill="#2786b2" stroke="#2786b2" stroke-width="2.225" stroke-linejoin="round"/><polygon points="880.5,656.7 913.0,673.9 880.5,691.1 848.0,673.9" fill="#33a0c6" stroke="#33a0c6" stroke-width="2.225" stroke-linejoin="round"/><polyline points="848.0,673.9 880.5,656.7 913.0,673.9" fill="none" stroke="#4fb2d8" stroke-width="0.80" stroke-linejoin="round" opacity="0.8"/><polyline points="848.0,673.9 880.5,691.1 913.0,673.9" fill="none" stroke="#5fbbe0" stroke-width="0.62" opacity="0.6"/><g transform="translate(880.50,656.70) scale(0.890,0.890)" fill="none" stroke="#fff" stroke-width="1.55" stroke-linecap="round"><ellipse cx="0" cy="20.7" rx="11.5" ry="7"/><path d="M-6.5,6.5 Q-6,12.7 0,13.7 Q6,12.7 6.5,6.5" marker-start="url(#ah)" marker-end="url(#ah)"/><path d="M-6.5,35 Q-6,28.7 0,27.7 Q6,28.7 6.5,35" marker-start="url(#ah)" marker-end="url(#ah)"/><path d="M-26,16.5 Q-15.5,16.5 -11.5,20.7 Q-15.5,24.5 -26,24.5" marker-start="url(#ah)" marker-end="url(#ah)"/><path d="M26,16.5 Q15.5,16.5 11.5,20.7 Q15.5,24.5 26,24.5" marker-start="url(#ah)" marker-end="url(#ah)"/></g><text x="880.50" y="678.50" font-size="9.35" font-weight="bold" fill="#fff" stroke="#fff" stroke-width="0.27" text-anchor="middle">L2</text><text transform="matrix(1,0.5514,0,1,849.35,686.34)" font-size="7.48" font-weight="bold" fill="#fff" stroke="#fff" stroke-width="0.49" lengthAdjust="spacingAndGlyphs" textLength="26.7">SWITCH</text><text transform="matrix(1,-0.5938,0,1,884.06,703.51)" font-size="7.48" font-weight="bold" fill="#fff" stroke="#fff" stroke-width="0.49" lengthAdjust="spacingAndGlyphs" textLength="24.9">1000M</text>
<polygon points="922.9,673.9 955.4,691.1 955.4,706.6 922.9,689.5" fill="#2b8dba" stroke="#2b8dba" stroke-width="2.225" stroke-linejoin="round"/><polygon points="955.4,691.1 987.9,673.9 987.9,689.5 955.4,706.6" fill="#2786b2" stroke="#2786b2" stroke-width="2.225" stroke-linejoin="round"/><polygon points="955.4,656.7 987.9,673.9 955.4,691.1 922.9,673.9" fill="#33a0c6" stroke="#33a0c6" stroke-width="2.225" stroke-linejoin="round"/><polyline points="922.9,673.9 955.4,656.7 987.9,673.9" fill="none" stroke="#4fb2d8" stroke-width="0.80" stroke-linejoin="round" opacity="0.8"/><polyline points="922.9,673.9 955.4,691.1 987.9,673.9" fill="none" stroke="#5fbbe0" stroke-width="0.62" opacity="0.6"/><g transform="translate(955.40,656.70) scale(0.890,0.890)" fill="none" stroke="#fff" stroke-width="1.55" stroke-linecap="round"><ellipse cx="0" cy="20.7" rx="11.5" ry="7"/><path d="M-6.5,6.5 Q-6,12.7 0,13.7 Q6,12.7 6.5,6.5" marker-start="url(#ah)" marker-end="url(#ah)"/><path d="M-6.5,35 Q-6,28.7 0,27.7 Q6,28.7 6.5,35" marker-start="url(#ah)" marker-end="url(#ah)"/><path d="M-26,16.5 Q-15.5,16.5 -11.5,20.7 Q-15.5,24.5 -26,24.5" marker-start="url(#ah)" marker-end="url(#ah)"/><path d="M26,16.5 Q15.5,16.5 11.5,20.7 Q15.5,24.5 26,24.5" marker-start="url(#ah)" marker-end="url(#ah)"/></g><text x="955.40" y="678.50" font-size="9.35" font-weight="bold" fill="#fff" stroke="#fff" stroke-width="0.27" text-anchor="middle">L2</text><text transform="matrix(1,0.5514,0,1,924.25,686.34)" font-size="7.48" font-weight="bold" fill="#fff" stroke="#fff" stroke-width="0.49" lengthAdjust="spacingAndGlyphs" textLength="26.7">SWITCH</text><text transform="matrix(1,-0.5938,0,1,958.96,703.51)" font-size="7.48" font-weight="bold" fill="#fff" stroke="#fff" stroke-width="0.49" lengthAdjust="spacingAndGlyphs" textLength="24.9">1000M</text>
<polygon points="997.9,673.9 1030.4,691.1 1030.4,706.6 997.9,689.5" fill="#2b8dba" stroke="#2b8dba" stroke-width="2.225" stroke-linejoin="round"/><polygon points="1030.4,691.1 1062.9,673.9 1062.9,689.5 1030.4,706.6" fill="#2786b2" stroke="#2786b2" stroke-width="2.225" stroke-linejoin="round"/><polygon points="1030.4,656.7 1062.9,673.9 1030.4,691.1 997.9,673.9" fill="#33a0c6" stroke="#33a0c6" stroke-width="2.225" stroke-linejoin="round"/><polyline points="997.9,673.9 1030.4,656.7 1062.9,673.9" fill="none" stroke="#4fb2d8" stroke-width="0.80" stroke-linejoin="round" opacity="0.8"/><polyline points="997.9,673.9 1030.4,691.1 1062.9,673.9" fill="none" stroke="#5fbbe0" stroke-width="0.62" opacity="0.6"/><g transform="translate(1030.40,656.70) scale(0.890,0.890)" fill="none" stroke="#fff" stroke-width="1.55" stroke-linecap="round"><ellipse cx="0" cy="20.7" rx="11.5" ry="7"/><path d="M-6.5,6.5 Q-6,12.7 0,13.7 Q6,12.7 6.5,6.5" marker-start="url(#ah)" marker-end="url(#ah)"/><path d="M-6.5,35 Q-6,28.7 0,27.7 Q6,28.7 6.5,35" marker-start="url(#ah)" marker-end="url(#ah)"/><path d="M-26,16.5 Q-15.5,16.5 -11.5,20.7 Q-15.5,24.5 -26,24.5" marker-start="url(#ah)" marker-end="url(#ah)"/><path d="M26,16.5 Q15.5,16.5 11.5,20.7 Q15.5,24.5 26,24.5" marker-start="url(#ah)" marker-end="url(#ah)"/></g><text x="1030.40" y="678.50" font-size="9.35" font-weight="bold" fill="#fff" stroke="#fff" stroke-width="0.27" text-anchor="middle">L2</text><text transform="matrix(1,0.5514,0,1,999.25,686.34)" font-size="7.48" font-weight="bold" fill="#fff" stroke="#fff" stroke-width="0.49" lengthAdjust="spacingAndGlyphs" textLength="26.7">SWITCH</text><text transform="matrix(1,-0.5938,0,1,1033.96,703.51)" font-size="7.48" font-weight="bold" fill="#fff" stroke="#fff" stroke-width="0.49" lengthAdjust="spacingAndGlyphs" textLength="24.9">1000M</text>
<polygon points="1072.8,673.9 1105.3,691.1 1105.3,706.6 1072.8,689.5" fill="#2b8dba" stroke="#2b8dba" stroke-width="2.225" stroke-linejoin="round"/><polygon points="1105.3,691.1 1137.8,673.9 1137.8,689.5 1105.3,706.6" fill="#2786b2" stroke="#2786b2" stroke-width="2.225" stroke-linejoin="round"/><polygon points="1105.3,656.7 1137.8,673.9 1105.3,691.1 1072.8,673.9" fill="#33a0c6" stroke="#33a0c6" stroke-width="2.225" stroke-linejoin="round"/><polyline points="1072.8,673.9 1105.3,656.7 1137.8,673.9" fill="none" stroke="#4fb2d8" stroke-width="0.80" stroke-linejoin="round" opacity="0.8"/><polyline points="1072.8,673.9 1105.3,691.1 1137.8,673.9" fill="none" stroke="#5fbbe0" stroke-width="0.62" opacity="0.6"/><g transform="translate(1105.30,656.70) scale(0.890,0.890)" fill="none" stroke="#fff" stroke-width="1.55" stroke-linecap="round"><ellipse cx="0" cy="20.7" rx="11.5" ry="7"/><path d="M-6.5,6.5 Q-6,12.7 0,13.7 Q6,12.7 6.5,6.5" marker-start="url(#ah)" marker-end="url(#ah)"/><path d="M-6.5,35 Q-6,28.7 0,27.7 Q6,28.7 6.5,35" marker-start="url(#ah)" marker-end="url(#ah)"/><path d="M-26,16.5 Q-15.5,16.5 -11.5,20.7 Q-15.5,24.5 -26,24.5" marker-start="url(#ah)" marker-end="url(#ah)"/><path d="M26,16.5 Q15.5,16.5 11.5,20.7 Q15.5,24.5 26,24.5" marker-start="url(#ah)" marker-end="url(#ah)"/></g><text x="1105.30" y="678.50" font-size="9.35" font-weight="bold" fill="#fff" stroke="#fff" stroke-width="0.27" text-anchor="middle">L2</text><text transform="matrix(1,0.5514,0,1,1074.15,686.34)" font-size="7.48" font-weight="bold" fill="#fff" stroke="#fff" stroke-width="0.49" lengthAdjust="spacingAndGlyphs" textLength="26.7">SWITCH</text><text transform="matrix(1,-0.5938,0,1,1108.86,703.51)" font-size="7.48" font-weight="bold" fill="#fff" stroke="#fff" stroke-width="0.49" lengthAdjust="spacingAndGlyphs" textLength="24.9">1000M</text>
<line x1="997.5" y1="476" x2="997.5" y2="512" stroke="#e8141a" stroke-width="2"/>
<polygon points="956.5,527.5 993.0,546.8 993.0,564.3 956.5,545.0" fill="#2b8dba" stroke="#2b8dba" stroke-width="2.5" stroke-linejoin="round"/><polygon points="993.0,546.8 1029.5,527.5 1029.5,545.0 993.0,564.3" fill="#2786b2" stroke="#2786b2" stroke-width="2.5" stroke-linejoin="round"/><polygon points="993.0,508.2 1029.5,527.5 993.0,546.8 956.5,527.5" fill="#33a0c6" stroke="#33a0c6" stroke-width="2.5" stroke-linejoin="round"/><polyline points="956.5,527.5 993.0,508.2 1029.5,527.5" fill="none" stroke="#4fb2d8" stroke-width="0.90" stroke-linejoin="round" opacity="0.8"/><polyline points="956.5,527.5 993.0,546.8 1029.5,527.5" fill="none" stroke="#5fbbe0" stroke-width="0.70" opacity="0.6"/><g transform="translate(993.00,508.20) scale(1.000,1.000)" fill="none" stroke="#fff" stroke-width="1.55" stroke-linecap="round"><ellipse cx="0" cy="20.7" rx="11.5" ry="7"/><path d="M-6.5,6.5 Q-6,12.7 0,13.7 Q6,12.7 6.5,6.5" marker-start="url(#ah)" marker-end="url(#ah)"/><path d="M-6.5,35 Q-6,28.7 0,27.7 Q6,28.7 6.5,35" marker-start="url(#ah)" marker-end="url(#ah)"/><path d="M-26,16.5 Q-15.5,16.5 -11.5,20.7 Q-15.5,24.5 -26,24.5" marker-start="url(#ah)" marker-end="url(#ah)"/><path d="M26,16.5 Q15.5,16.5 11.5,20.7 Q15.5,24.5 26,24.5" marker-start="url(#ah)" marker-end="url(#ah)"/></g><text x="993.00" y="532.70" font-size="10.50" font-weight="bold" fill="#fff" stroke="#fff" stroke-width="0.30" text-anchor="middle">L3</text><text transform="matrix(1,0.5514,0,1,958.00,541.50)" font-size="8.40" font-weight="bold" fill="#fff" stroke="#fff" stroke-width="0.55" lengthAdjust="spacingAndGlyphs" textLength="30.0">SWITCH</text><text transform="matrix(1,-0.5938,0,1,997.00,560.80)" font-size="8.40" font-weight="bold" fill="#fff" stroke="#fff" stroke-width="0.55" lengthAdjust="spacingAndGlyphs" textLength="28.0">1000M</text>
<polygon points="564.1,524.8 601.3,545.1 601.3,566.1 564.1,545.8" fill="#2b8dba" stroke="#2b8dba" stroke-width="2.5" stroke-linejoin="round"/><polygon points="601.3,545.1 638.5,524.8 638.5,545.8 601.3,566.1" fill="#2786b2" stroke="#2786b2" stroke-width="2.5" stroke-linejoin="round"/><polygon points="601.3,504.5 638.5,524.8 601.3,545.1 564.1,524.8" fill="#33a0c6" stroke="#33a0c6" stroke-width="2.5" stroke-linejoin="round"/><polyline points="564.1,524.8 601.3,504.5 638.5,524.8" fill="none" stroke="#4fb2d8" stroke-width="0.90" stroke-linejoin="round" opacity="0.8"/><polyline points="564.1,524.8 601.3,545.1 638.5,524.8" fill="none" stroke="#5fbbe0" stroke-width="0.70" opacity="0.6"/><g transform="translate(601.30,504.50) scale(1.019,1.052)" fill="none" stroke="#fff" stroke-width="1.55" stroke-linecap="round"><ellipse cx="0" cy="20.5" rx="13" ry="8.3"/><path d="M-6.5,6.5 Q-6,12.5 0,13.5 Q6,12.5 6.5,6.5" marker-start="url(#ah)" marker-end="url(#ah)"/><path d="M-6.5,35 Q-6,28.5 0,27.5 Q6,28.5 6.5,35" marker-start="url(#ah)" marker-end="url(#ah)"/><path d="M-26,16.5 Q-17.0,16.5 -13.0,20.5 Q-17.0,24.5 -26,24.5" marker-start="url(#ah)" marker-end="url(#ah)"/><path d="M26,16.5 Q17.0,16.5 13.0,20.5 Q17.0,24.5 26,24.5" marker-start="url(#ah)" marker-end="url(#ah)"/></g><text transform="matrix(1,0.5767,0,1,566.10,541.60)" font-size="9" font-weight="bold" fill="#fff" stroke="#fff" stroke-width="0.55" lengthAdjust="spacingAndGlyphs" textLength="31">SWITCH</text><text transform="matrix(1,-0.7463,0,1,611.30,553.90)" font-size="8" font-weight="bold" fill="#fff" stroke="#fff" stroke-width="0.55" lengthAdjust="spacingAndGlyphs" textLength="19">DATA</text><text transform="matrix(1,-0.6114,0,1,605.30,563.60)" font-size="8" font-weight="bold" fill="#fff" stroke="#fff" stroke-width="0.55" lengthAdjust="spacingAndGlyphs" textLength="31">CENTER</text>
<g><ellipse cx="579.6" cy="85.9" rx="33.0" ry="17.5" fill="#8c999f"/><ellipse cx="641.6" cy="82.2" rx="48.5" ry="22.1" fill="#8c999f"/><ellipse cx="688.0" cy="91.4" rx="23.4" ry="18.4" fill="#8c999f"/><ellipse cx="699.6" cy="105.1" rx="29.2" ry="14.8" fill="#8c999f"/><ellipse cx="672.5" cy="114.3" rx="27.2" ry="14.8" fill="#8c999f"/><ellipse cx="624.2" cy="112.4" rx="44.6" ry="20.3" fill="#8c999f"/><ellipse cx="573.8" cy="105.1" rx="33.0" ry="14.8" fill="#8c999f"/><ellipse cx="636.7" cy="98.7" rx="71.7" ry="23.9" fill="#8c999f"/><ellipse cx="580.8" cy="85.0" rx="29.0" ry="13.7" fill="#fff"/><ellipse cx="642.8" cy="81.3" rx="44.5" ry="18.3" fill="#fff"/><ellipse cx="689.2" cy="90.5" rx="19.4" ry="14.6" fill="#fff"/><ellipse cx="700.8" cy="104.2" rx="25.2" ry="11.0" fill="#fff"/><ellipse cx="673.7" cy="113.4" rx="23.2" ry="11.0" fill="#fff"/><ellipse cx="625.4" cy="111.5" rx="40.6" ry="16.5" fill="#fff"/><ellipse cx="575.0" cy="104.2" rx="29.0" ry="11.0" fill="#fff"/><ellipse cx="637.9" cy="97.8" rx="67.7" ry="20.1" fill="#fff"/></g><text x="633" y="104.2" font-size="20" font-weight="bold" fill="#b9c9dd" stroke="#b9c9dd" stroke-width="0.6" text-anchor="middle">互联网</text><text x="632" y="103" font-size="20" font-weight="bold" fill="#4a71a6" stroke="#4a71a6" stroke-width="0.4" text-anchor="middle">互联网</text>
<polygon points="535.1,166.2 565.4,180.5 565.4,237.5 535.1,223.2" fill="#2a8dc1" stroke="#2a8dc1" stroke-width="1.6" stroke-linejoin="round"/><polygon points="565.4,180.5 576.0,176.8 576.0,233.8 565.4,237.5" fill="#3aa3d3" stroke="#3aa3d3" stroke-width="1.6" stroke-linejoin="round"/><polygon points="545.7,162.5 576.0,176.8 565.4,180.5 535.1,166.2" fill="#46abd6" stroke="#46abd6" stroke-width="1.6" stroke-linejoin="round"/><polygon points="541.8,179.3 559.3,187.6 559.3,227.6 541.8,219.3" fill="#47a9d6" opacity="0.45"/><polygon points="568.6,179.4 576.0,176.8 576.0,233.8 568.6,236.4" fill="#5bb8e0" opacity="0.35"/><polyline points="539.3,183.2 561.2,193.5 561.2,193.5 539.3,183.2" stroke="#6fc0e4" stroke-width="0.6" fill="none" opacity="0.45"/><polyline points="539.3,197.2 561.2,207.5 561.2,207.5 539.3,197.2" stroke="#6fc0e4" stroke-width="0.6" fill="none" opacity="0.45"/><polyline points="539.3,211.2 561.2,221.5 561.2,221.5 539.3,211.2" stroke="#6fc0e4" stroke-width="0.6" fill="none" opacity="0.45"/><polyline points="539.3,171.2 539.3,171.2 539.3,222.2 539.3,222.2" stroke="#6fc0e4" stroke-width="0.7" fill="none" opacity="0.5"/><polyline points="561.2,181.5 561.2,181.5 561.2,232.5 561.2,232.5" stroke="#6fc0e4" stroke-width="0.7" fill="none" opacity="0.5"/>
<polygon points="634.1,165.2 664.4,179.5 664.4,236.5 634.1,222.2" fill="#2a8dc1" stroke="#2a8dc1" stroke-width="1.6" stroke-linejoin="round"/><polygon points="664.4,179.5 675.0,175.8 675.0,232.8 664.4,236.5" fill="#3aa3d3" stroke="#3aa3d3" stroke-width="1.6" stroke-linejoin="round"/><polygon points="644.7,161.5 675.0,175.8 664.4,179.5 634.1,165.2" fill="#46abd6" stroke="#46abd6" stroke-width="1.6" stroke-linejoin="round"/><polygon points="640.8,178.3 658.3,186.6 658.3,226.6 640.8,218.3" fill="#47a9d6" opacity="0.45"/><polygon points="667.6,178.4 675.0,175.8 675.0,232.8 667.6,235.4" fill="#5bb8e0" opacity="0.35"/><polyline points="638.3,182.2 660.2,192.5 660.2,192.5 638.3,182.2" stroke="#6fc0e4" stroke-width="0.6" fill="none" opacity="0.45"/><polyline points="638.3,196.2 660.2,206.5 660.2,206.5 638.3,196.2" stroke="#6fc0e4" stroke-width="0.6" fill="none" opacity="0.45"/><polyline points="638.3,210.2 660.2,220.5 660.2,220.5 638.3,210.2" stroke="#6fc0e4" stroke-width="0.6" fill="none" opacity="0.45"/><polyline points="638.3,170.2 638.3,170.2 638.3,221.2 638.3,221.2" stroke="#6fc0e4" stroke-width="0.7" fill="none" opacity="0.5"/><polyline points="660.2,180.5 660.2,180.5 660.2,231.5 660.2,231.5" stroke="#6fc0e4" stroke-width="0.7" fill="none" opacity="0.5"/>
<polygon points="588.4,111.5 576.5,146.0 574.2,159.0 569.5,151.5 561.3,178.5 567.8,151.0 571.2,137.5 575.0,145.0 587.0,111.5" fill="#f5a20c"/>
<polygon points="678.4,108.5 666.5,143.0 664.2,156.0 659.5,148.5 651.3,175.5 657.8,148.0 661.2,134.5 665.0,142.0 677.0,108.5" fill="#f5a20c"/>
<polygon points="608,303 683,348 606.5,394 527,347" fill="url(#gDiam)" stroke="#c8c8c8" stroke-width="7" stroke-linejoin="round"/>
<polygon points="608,299 687,348 606.5,398 523,347" fill="none" stroke="#9a9a9a" stroke-width="0.8" stroke-dasharray="2,1.5" stroke-linejoin="round"/>
<g stroke="#d9161c" stroke-width="2"><line x1="596" y1="331" x2="624" y2="331"/><line x1="596" y1="348" x2="624" y2="348"/></g>
<polygon points="535.4,291.7 566.2,308.0 566.2,378.0 535.4,361.7" fill="url(#gSrvL)" stroke="#2a86b6" stroke-width="2.5" stroke-linejoin="round"/><polygon points="566.2,308.0 597.0,291.7 597.0,361.7 566.2,378.0" fill="url(#gSrvR)" stroke="#2f8fbd" stroke-width="2.5" stroke-linejoin="round"/><polygon points="566.2,275.4 597.0,291.7 566.2,308.0 535.4,291.7" fill="#3ba7c7" stroke="#3399c0" stroke-width="3" stroke-linejoin="round"/><polygon points="537.2,300.7 563.1,314.4 563.1,372.4 537.2,358.7" fill="#1c5177"/><polygon points="537.9,302.0 562.5,315.0 562.5,326.0 537.9,313.0" fill="#2f7fae"/><polyline points="540.3,318.3 540.3,318.3 540.3,343.3 540.3,343.3" stroke="#b7d3e3" stroke-width="1.4" stroke-dasharray="1,1.3" fill="none" opacity="0.85"/><polyline points="544.0,320.3 544.0,320.3 544.0,345.3 544.0,345.3" stroke="#b7d3e3" stroke-width="1.4" stroke-dasharray="1,1.3" fill="none" opacity="0.85"/><polyline points="547.7,322.2 547.7,322.2 547.7,347.2 547.7,347.2" stroke="#b7d3e3" stroke-width="1.4" stroke-dasharray="1,1.3" fill="none" opacity="0.85"/><polyline points="551.4,324.2 551.4,324.2 551.4,349.2 551.4,349.2" stroke="#b7d3e3" stroke-width="1.4" stroke-dasharray="1,1.3" fill="none" opacity="0.85"/><polyline points="555.1,326.1 555.1,326.1 555.1,351.1 555.1,351.1" stroke="#b7d3e3" stroke-width="1.4" stroke-dasharray="1,1.3" fill="none" opacity="0.85"/><polyline points="558.8,328.1 558.8,328.1 558.8,353.1 558.8,353.1" stroke="#b7d3e3" stroke-width="1.4" stroke-dasharray="1,1.3" fill="none" opacity="0.85"/><polygon points="538.5,344.3 561.9,356.7 561.9,362.7 538.5,350.3" fill="#8fd3f0"/><polygon points="538.5,351.8 561.9,364.2 561.9,370.7 538.5,358.3" fill="#2b4f6c"/>
<polygon points="623.6,291.7 654.4,308.0 654.4,378.0 623.6,361.7" fill="url(#gSrvL)" stroke="#2a86b6" stroke-width="2.5" stroke-linejoin="round"/><polygon points="654.4,308.0 685.2,291.7 685.2,361.7 654.4,378.0" fill="url(#gSrvR)" stroke="#2f8fbd" stroke-width="2.5" stroke-linejoin="round"/><polygon points="654.4,275.4 685.2,291.7 654.4,308.0 623.6,291.7" fill="#3ba7c7" stroke="#3399c0" stroke-width="3" stroke-linejoin="round"/><polygon points="625.4,300.7 651.3,314.4 651.3,372.4 625.4,358.7" fill="#1c5177"/><polygon points="626.1,302.0 650.7,315.0 650.7,326.0 626.1,313.0" fill="#2f7fae"/><polyline points="628.5,318.3 628.5,318.3 628.5,343.3 628.5,343.3" stroke="#b7d3e3" stroke-width="1.4" stroke-dasharray="1,1.3" fill="none" opacity="0.85"/><polyline points="632.2,320.3 632.2,320.3 632.2,345.3 632.2,345.3" stroke="#b7d3e3" stroke-width="1.4" stroke-dasharray="1,1.3" fill="none" opacity="0.85"/><polyline points="635.9,322.2 635.9,322.2 635.9,347.2 635.9,347.2" stroke="#b7d3e3" stroke-width="1.4" stroke-dasharray="1,1.3" fill="none" opacity="0.85"/><polyline points="639.6,324.2 639.6,324.2 639.6,349.2 639.6,349.2" stroke="#b7d3e3" stroke-width="1.4" stroke-dasharray="1,1.3" fill="none" opacity="0.85"/><polyline points="643.3,326.1 643.3,326.1 643.3,351.1 643.3,351.1" stroke="#b7d3e3" stroke-width="1.4" stroke-dasharray="1,1.3" fill="none" opacity="0.85"/><polyline points="647.0,328.1 647.0,328.1 647.0,353.1 647.0,353.1" stroke="#b7d3e3" stroke-width="1.4" stroke-dasharray="1,1.3" fill="none" opacity="0.85"/><polygon points="626.7,344.3 650.1,356.7 650.1,362.7 626.7,350.3" fill="#8fd3f0"/><polygon points="626.7,351.8 650.1,364.2 650.1,370.7 626.7,358.3" fill="#2b4f6c"/>
<polygon points="756,302 786,323 756,344 724,323" fill="url(#gDiam)" stroke="#c4c4c4" stroke-width="6" stroke-linejoin="round"/>
<polygon points="702.0,320.0 725.7,333.0 725.7,346.0 702.0,333.0" fill="#2a8bb8" stroke="#2a8bb8" stroke-width="2" stroke-linejoin="round"/><polygon points="725.7,333.0 749.3,320.5 749.3,333.5 725.7,346.0" fill="#2481ae" stroke="#2481ae" stroke-width="2" stroke-linejoin="round"/><polygon points="725.6,307.5 749.3,320.5 725.7,333.0 702.0,320.0" fill="#2e97c1" stroke="#2e97c1" stroke-width="2" stroke-linejoin="round"/><g stroke="#fff" stroke-width="1.1" fill="none" marker-start="url(#ah)" marker-end="url(#ah)"><line x1="721.6" y1="310.25" x2="721.6" y2="330.25" marker-start="url(#ah)" marker-end="url(#ah)"/><line x1="729.6" y1="310.25" x2="729.6" y2="330.25" marker-start="url(#ah)" marker-end="url(#ah)"/><line x1="712.6" y1="316.75" x2="738.6" y2="316.75" marker-start="url(#ah)" marker-end="url(#ah)"/><line x1="712.6" y1="323.75" x2="738.6" y2="323.75" marker-start="url(#ah)" marker-end="url(#ah)"/></g><text transform="matrix(1,0.5727,0,1,703.00,329.50)" font-size="5.6" font-weight="bold" fill="#fff" textLength="19" lengthAdjust="spacingAndGlyphs">SWITCH</text><text transform="matrix(1,-0.6378,0,1,729.70,338.00)" font-size="5" font-weight="bold" fill="#fff" textLength="14" lengthAdjust="spacingAndGlyphs">DATA</text><text transform="matrix(1,-0.5787,0,1,727.70,344.00)" font-size="5" font-weight="bold" fill="#fff" textLength="18" lengthAdjust="spacingAndGlyphs">CENTER</text>
<line x1="745" y1="329.5" x2="765" y2="329.5" stroke="#d9161c" stroke-width="2"/><line x1="745" y1="322" x2="765" y2="322" stroke="#d9161c" stroke-width="2"/>
<polygon points="759.7,321.0 782.8,334.0 782.8,347.0 759.7,334.0" fill="#2a8bb8" stroke="#2a8bb8" stroke-width="2" stroke-linejoin="round"/><polygon points="782.8,334.0 806.5,321.0 806.5,334.0 782.8,347.0" fill="#2481ae" stroke="#2481ae" stroke-width="2" stroke-linejoin="round"/><polygon points="783.4,308.0 806.5,321.0 782.8,334.0 759.7,321.0" fill="#2e97c1" stroke="#2e97c1" stroke-width="2" stroke-linejoin="round"/><g stroke="#fff" stroke-width="1.1" fill="none" marker-start="url(#ah)" marker-end="url(#ah)"><line x1="779.4" y1="311.0" x2="779.4" y2="331.0" marker-start="url(#ah)" marker-end="url(#ah)"/><line x1="787.4" y1="311.0" x2="787.4" y2="331.0" marker-start="url(#ah)" marker-end="url(#ah)"/><line x1="770.4" y1="317.5" x2="796.4" y2="317.5" marker-start="url(#ah)" marker-end="url(#ah)"/><line x1="770.4" y1="324.5" x2="796.4" y2="324.5" marker-start="url(#ah)" marker-end="url(#ah)"/></g><text transform="matrix(1,0.5882,0,1,760.70,330.50)" font-size="5.6" font-weight="bold" fill="#fff" textLength="19" lengthAdjust="spacingAndGlyphs">SWITCH</text><text transform="matrix(1,-0.6599,0,1,786.80,339.00)" font-size="5" font-weight="bold" fill="#fff" textLength="14" lengthAdjust="spacingAndGlyphs">DATA</text><text transform="matrix(1,-0.5991,0,1,784.80,345.00)" font-size="5" font-weight="bold" fill="#fff" textLength="18" lengthAdjust="spacingAndGlyphs">CENTER</text>
<g><ellipse cx="555.4" cy="462.2" rx="29.5" ry="15.8" fill="#8c999f"/><ellipse cx="609.7" cy="459.0" rx="43.1" ry="19.9" fill="#8c999f"/><ellipse cx="650.5" cy="467.0" rx="21.0" ry="16.6" fill="#8c999f"/><ellipse cx="660.7" cy="479.0" rx="26.1" ry="13.4" fill="#8c999f"/><ellipse cx="636.9" cy="487.1" rx="24.4" ry="13.4" fill="#8c999f"/><ellipse cx="594.5" cy="485.4" rx="39.7" ry="18.3" fill="#8c999f"/><ellipse cx="550.3" cy="479.0" rx="29.5" ry="13.4" fill="#8c999f"/><ellipse cx="605.5" cy="473.4" rx="63.5" ry="21.5" fill="#8c999f"/><ellipse cx="556.6" cy="461.3" rx="25.5" ry="12.0" fill="#fff"/><ellipse cx="610.9" cy="458.1" rx="39.1" ry="16.1" fill="#fff"/><ellipse cx="651.7" cy="466.1" rx="17.0" ry="12.8" fill="#fff"/><ellipse cx="661.9" cy="478.1" rx="22.1" ry="9.6" fill="#fff"/><ellipse cx="638.1" cy="486.2" rx="20.4" ry="9.6" fill="#fff"/><ellipse cx="595.7" cy="484.5" rx="35.7" ry="14.5" fill="#fff"/><ellipse cx="551.5" cy="478.1" rx="25.5" ry="9.6" fill="#fff"/><ellipse cx="606.7" cy="472.5" rx="59.5" ry="17.7" fill="#fff"/></g><text x="607" y="479.2" font-size="20" font-weight="bold" fill="#b9c9dd" stroke="#b9c9dd" stroke-width="0.6" text-anchor="middle">教育网</text><text x="606" y="478" font-size="20" font-weight="bold" fill="#4a71a6" stroke="#4a71a6" stroke-width="0.4" text-anchor="middle">教育网</text>
<g font-size="15.5" font-weight="bold"><text x="208.5" y="507.5" fill="#c6cde0">大型学校</text><text x="207.5" y="506.5" fill="#2f3f70">大型学校</text><text x="646" y="519" fill="#c6cde0">中型学校</text><text x="645" y="518" fill="#2f3f70">中型学校</text><text x="1020.5" y="510" fill="#c6cde0">小型学校</text><text x="1019.5" y="509" fill="#2f3f70">小型学校</text></g>
<polygon points="159.7,528.5 197.4,549.1 197.4,577.1 159.7,556.5" fill="#2a80ae" stroke="#2a80ae" stroke-width="2.5" stroke-linejoin="round"/><polygon points="197.4,549.1 234.2,529.4 234.2,557.4 197.4,577.1" fill="#2e93c2" stroke="#2e93c2" stroke-width="2.5" stroke-linejoin="round"/><polygon points="196.5,508.8 234.2,529.4 197.4,549.1 159.7,528.5" fill="#35a0c9" stroke="#35a0c9" stroke-width="2.5" stroke-linejoin="round"/><polygon points="163.5,535.6 194.4,552.5 194.4,571.5 163.5,554.6" fill="#245f84"/><polyline points="166.5,544.2 191.7,558.0 191.7,558.0 166.5,544.2" stroke="#8fb2c8" stroke-width="1.3" stroke-dasharray="1.2,0.8" fill="none"/><polyline points="166.5,548.2 191.7,562.0 191.7,562.0 166.5,548.2" stroke="#8fb2c8" stroke-width="1.3" stroke-dasharray="1.2,0.8" fill="none"/><polyline points="166.5,552.2 191.7,566.0 191.7,566.0 166.5,552.2" stroke="#8fb2c8" stroke-width="1.3" stroke-dasharray="1.2,0.8" fill="none"/><polygon points="176.7,543.8 182.3,546.9 182.3,550.9 176.7,547.8" fill="#bfe3f3"/>
<g>
<ellipse cx="302" cy="242.5" rx="28" ry="15" fill="#1c5f8c"/><ellipse cx="302" cy="241" rx="28" ry="15" fill="url(#gEll)"/>
<ellipse cx="302.5" cy="241" rx="8" ry="4.2" fill="#6fd0f0" opacity="0.9"/>
<circle cx="302.9" cy="220.8" r="4.3" fill="#fff" stroke="#ccc" stroke-width="0.4"/>
<rect x="296.8" y="225.6" width="12.4" height="14.5" rx="2.5" fill="#fff"/>
<rect x="292.4" y="227" width="2.8" height="8.5" rx="1.3" fill="#fff"/><rect x="310.8" y="227" width="2.8" height="8.5" rx="1.3" fill="#fff"/>
<g stroke="#fff" stroke-width="2" fill="none" marker-end="url(#ah)"><line x1="279" y1="238.8" x2="289.5" y2="238.8"/><line x1="326.8" y1="238.8" x2="316" y2="238.8"/><line x1="303.2" y1="254" x2="303.2" y2="248"/></g>
<ellipse cx="387.2" cy="242.8" rx="27.8" ry="14.5" fill="#1c5f8c"/><ellipse cx="387.2" cy="241.3" rx="27.8" ry="14.5" fill="url(#gEll)"/>
<ellipse cx="389" cy="241" rx="8.5" ry="4.5" fill="#8fe0f6" opacity="0.85"/>
<line x1="398.5" y1="238.5" x2="414.5" y2="250.5" stroke="#5a5a5a" stroke-width="3.6" stroke-linecap="round"/>
<line x1="406" y1="244" x2="414.5" y2="250.5" stroke="#333" stroke-width="3" stroke-linecap="round"/>
<circle cx="390.6" cy="229.6" r="11.3" fill="#9d9d9d" stroke="#cfcfcf" stroke-width="1.3"/>
<g stroke="#fff" stroke-width="1.6" fill="none"><line x1="384" y1="228" x2="397" y2="228" marker-end="url(#ah)"/><line x1="398" y1="234.4" x2="385" y2="234.4" stroke-dasharray="1.8,1.6" marker-end="url(#ah)"/></g>
<ellipse cx="255" cy="323.5" rx="27" ry="13.5" fill="#1c5f8c"/><ellipse cx="255" cy="322" rx="27" ry="13.5" fill="url(#gEll)"/>
<ellipse cx="255" cy="322.5" rx="8" ry="4" fill="#a9e4f8"/>
<rect x="238" y="295" width="34" height="21" fill="#1e1e1e"/>
<rect x="239.3" y="296.3" width="31.4" height="18.4" fill="#8c8c8c"/>
<polygon points="239.5,297 270,297 270,303 239.5,310" fill="#a9a9a9"/>
<text x="255" y="308" font-size="6" font-weight="bold" fill="#eee" text-anchor="middle">SOC</text>
<ellipse cx="255" cy="322.5" rx="3" ry="1" fill="#c9eefa"/>
<polygon points="327.5,290 334,286.5 354,292 354,330 347,334 327.5,328" fill="#2d8fc2"/>
<polygon points="347,295 354,291.5 354,330 347,334" fill="#3aa6d8"/>
<polygon points="327.5,290 334,286.5 354,291.5 347,295" fill="#5ab8e0"/>
<polygon points="327.5,290 347,295 347,334 327.5,328" fill="#2784b8"/>
<g font-size="5.5" font-weight="bold" fill="#fff" text-anchor="middle"><text x="350.5" y="305">W</text><text x="350.5" y="313">A</text><text x="350.5" y="321">F</text></g>
<circle cx="337.5" cy="324.5" r="7.5" fill="#f28c10"/><circle cx="336.5" cy="323" r="4.5" fill="#f9b534"/>
<ellipse cx="425.1" cy="319.8" rx="25.1" ry="13.8" fill="#1c5f8c"/><ellipse cx="425.1" cy="318.3" rx="25.1" ry="13.8" fill="url(#gEll)"/>
<circle cx="425.7" cy="306" r="7.8" fill="#2f8fc4" stroke="#9ab" stroke-width="0.6" opacity="0.9"/>
<circle cx="425.3" cy="304.5" r="14.8" fill="none" stroke="#dfe4e6" stroke-width="0.9"/>
<path d="M417,316 Q418,298 433,296" fill="none" stroke="#e6c35a" stroke-width="1.6"/>
<path d="M419,318 Q421,302 436,297" fill="none" stroke="#9fd9ee" stroke-width="1"/>
<ellipse cx="424.6" cy="319" rx="6.5" ry="3.5" fill="#d8f3fb"/>
<path d="M421,320 Q421,316 424.6,316 Q428,316 428,320" fill="none" stroke="#6a7b88" stroke-width="1"/>
<polygon points="230.3,383.2 254.1,397.2 254.1,406.7 230.3,392.7" fill="#2a8ab7" stroke="#2a8ab7" stroke-width="1.8" stroke-linejoin="round"/><polygon points="254.1,397.2 279.0,384.2 279.0,393.7 254.1,406.7" fill="#2680ad" stroke="#2680ad" stroke-width="1.8" stroke-linejoin="round"/><polygon points="255.2,370.2 279.0,384.2 254.1,397.2 230.3,383.2" fill="#2f98c3" stroke="#2f98c3" stroke-width="1.8" stroke-linejoin="round"/>
<polygon points="246,379 257,378 262,385 256,392 246,390" fill="#d8dde2"/>
<g stroke="#fff" stroke-width="1.2" fill="none" marker-end="url(#ah)"><line x1="240" y1="381" x2="271" y2="377"/><line x1="240" y1="385" x2="272" y2="383"/><line x1="240" y1="389" x2="270" y2="389"/></g>
<polygon points="318.0,383.2 342.9,397.2 342.9,406.7 318.0,392.7" fill="#2a8ab7" stroke="#2a8ab7" stroke-width="1.8" stroke-linejoin="round"/><polygon points="342.9,397.2 366.8,384.2 366.8,393.7 342.9,406.7" fill="#2680ad" stroke="#2680ad" stroke-width="1.8" stroke-linejoin="round"/><polygon points="341.9,370.2 366.8,384.2 342.9,397.2 318.0,383.2" fill="#2f98c3" stroke="#2f98c3" stroke-width="1.8" stroke-linejoin="round"/>
<line x1="347" y1="384" x2="360" y2="399" stroke="#444" stroke-width="2.5" stroke-linecap="round"/>
<circle cx="342" cy="378" r="9" fill="#a8a8a8" stroke="#888" stroke-width="1"/>
<circle cx="340" cy="376" r="5" fill="#c9c9c9"/>
<text transform="matrix(1,0.5328,0,1,320.00,393.00)" font-size="6" font-weight="bold" fill="#fff" textLength="21" lengthAdjust="spacingAndGlyphs">NETLOG</text>
<polygon points="405.8,382.0 430.7,396.0 430.7,405.5 405.8,391.5" fill="#2a8ab7" stroke="#2a8ab7" stroke-width="1.8" stroke-linejoin="round"/><polygon points="430.7,396.0 455.6,383.0 455.6,392.5 430.7,405.5" fill="#2680ad" stroke="#2680ad" stroke-width="1.8" stroke-linejoin="round"/><polygon points="430.7,369.0 455.6,383.0 430.7,396.0 405.8,382.0" fill="#2f98c3" stroke="#2f98c3" stroke-width="1.8" stroke-linejoin="round"/>
<g stroke="#fff" stroke-width="1.3"><line x1="416" y1="382" x2="442" y2="376"/><line x1="428" y1="373" x2="432" y2="393"/><line x1="432" y1="380" x2="446" y2="386" stroke-width="0.8"/><line x1="431" y1="382" x2="442" y2="390" stroke-width="0.8"/><line x1="430" y1="383" x2="438" y2="393" stroke-width="0.8"/></g>
<rect x="424" y="375" width="11" height="5" fill="#fff" transform="rotate(-12 429 377)"/>
<g font-size="11.6" fill="#6a82ab" text-anchor="middle"><text x="304" y="271.5">实名认证系统</text><text x="390" y="271.5">日志审计设备</text><text x="254.6" y="348">智能云管理平台</text><text x="341.3" y="348">WEB防火墙</text><text x="431.7" y="348">网管监测监控系统</text><text x="255.3" y="419.5">堡垒机</text><text x="340.2" y="419.5">上网行为审计</text><text x="432.8" y="419.5">安全带外管理系统</text></g>
</g>
<polygon points="846.9,243.8 891.3,268.3 891.3,298.8 846.9,274.3" fill="#2a82b3" stroke="#2a82b3" stroke-width="1.5" stroke-linejoin="round"/><polygon points="891.3,268.3 918.4,253.6 918.4,284.1 891.3,298.8" fill="#1e5d88" stroke="#1e5d88" stroke-width="1.5" stroke-linejoin="round"/><polygon points="874.0,229.1 918.4,253.6 891.3,268.3 846.9,243.8" fill="#2f98c6" stroke="#2f98c6" stroke-width="1.5" stroke-linejoin="round"/><polygon points="849.1,249.0 889.1,271.1 889.1,281.1 849.1,259.0" fill="#1e5e8a"/><polygon points="850.5,251.8 852.0,252.6 852.0,258.6 850.5,257.8" fill="#cfe9f5"/><polygon points="853.2,253.3 854.8,254.1 854.8,260.1 853.2,259.3" fill="#cfe9f5"/><polygon points="856.0,254.8 857.5,255.7 857.5,261.7 856.0,260.8" fill="#cfe9f5"/><polygon points="858.7,256.3 860.3,257.2 860.3,263.2 858.7,262.3" fill="#cfe9f5"/><polygon points="861.5,257.8 863.0,258.7 863.0,264.7 861.5,263.8" fill="#cfe9f5"/><polygon points="864.2,259.4 865.8,260.2 865.8,266.2 864.2,265.4" fill="#cfe9f5"/><polygon points="867.0,260.9 868.5,261.7 868.5,267.7 867.0,266.9" fill="#cfe9f5"/><polygon points="869.7,262.4 871.3,263.3 871.3,269.3 869.7,268.4" fill="#cfe9f5"/><polygon points="872.5,263.9 874.0,264.8 874.0,270.8 872.5,269.9" fill="#cfe9f5"/><polygon points="875.2,265.4 876.8,266.3 876.8,272.3 875.2,271.4" fill="#cfe9f5"/><polygon points="878.0,266.9 879.5,267.8 879.5,273.8 878.0,272.9" fill="#cfe9f5"/><polygon points="880.7,268.5 882.3,269.3 882.3,275.3 880.7,274.5" fill="#cfe9f5"/><polygon points="883.5,270.0 885.0,270.8 885.0,276.8 883.5,276.0" fill="#cfe9f5"/><polygon points="886.2,271.5 887.8,272.4 887.8,278.4 886.2,277.5" fill="#cfe9f5"/><polygon points="849.1,261.0 889.1,283.1 889.1,293.1 849.1,271.0" fill="#1e5e8a"/><polygon points="850.5,263.8 852.0,264.6 852.0,270.6 850.5,269.8" fill="#cfe9f5"/><polygon points="853.2,265.3 854.8,266.1 854.8,272.1 853.2,271.3" fill="#cfe9f5"/><polygon points="856.0,266.8 857.5,267.7 857.5,273.7 856.0,272.8" fill="#cfe9f5"/><polygon points="858.7,268.3 860.3,269.2 860.3,275.2 858.7,274.3" fill="#cfe9f5"/><polygon points="861.5,269.8 863.0,270.7 863.0,276.7 861.5,275.8" fill="#cfe9f5"/><polygon points="864.2,271.4 865.8,272.2 865.8,278.2 864.2,277.4" fill="#cfe9f5"/><polygon points="867.0,272.9 868.5,273.7 868.5,279.7 867.0,278.9" fill="#cfe9f5"/><polygon points="869.7,274.4 871.3,275.3 871.3,281.3 869.7,280.4" fill="#cfe9f5"/><polygon points="872.5,275.9 874.0,276.8 874.0,282.8 872.5,281.9" fill="#cfe9f5"/><polygon points="875.2,277.4 876.8,278.3 876.8,284.3 875.2,283.4" fill="#cfe9f5"/><polygon points="878.0,278.9 879.5,279.8 879.5,285.8 878.0,284.9" fill="#cfe9f5"/><polygon points="880.7,280.5 882.3,281.3 882.3,287.3 880.7,286.5" fill="#cfe9f5"/><polygon points="883.5,282.0 885.0,282.8 885.0,288.8 883.5,288.0" fill="#cfe9f5"/><polygon points="886.2,283.5 887.8,284.4 887.8,290.4 886.2,289.5" fill="#cfe9f5"/>
<polygon points="966.0,248.2 982.3,257.5 982.3,303.5 966.0,294.2" fill="#2b8cbd" stroke="#2b8cbd" stroke-width="1.5" stroke-linejoin="round"/><polygon points="982.3,257.5 1017.0,238.4 1017.0,284.4 982.3,303.5" fill="#2e97c8" stroke="#2e97c8" stroke-width="1.5" stroke-linejoin="round"/><polygon points="1000.7,229.1 1017.0,238.4 982.3,257.5 966.0,248.2" fill="#3aa0ca" stroke="#3aa0ca" stroke-width="1.5" stroke-linejoin="round"/><polygon points="982.3,257.5 1017.0,238.4 1017.0,284.4 982.3,303.5" fill="url(#gTwR)"/><polygon points="966.0,248.2 982.3,257.5 982.3,303.5 966.0,294.2" fill="url(#gTwL)"/><polygon points="966.0,250.2 968.4,251.6 968.4,295.6 966.0,294.2" fill="#2884b4"/><polygon points="982.3,257.5 985.1,256.0 985.1,302.0 982.3,303.5" fill="#4fb0d8" opacity="0.6"/><text transform="matrix(1,-0.7154,0,1,990.30,278.20)" font-size="5" font-weight="bold" fill="#e6f4fb" textLength="15" lengthAdjust="spacingAndGlyphs">服务器</text>
<polygon points="1065.7,248.2 1082.0,257.5 1082.0,303.5 1065.7,294.2" fill="#2b8cbd" stroke="#2b8cbd" stroke-width="1.5" stroke-linejoin="round"/><polygon points="1082.0,257.5 1116.6,238.4 1116.6,284.4 1082.0,303.5" fill="#2e97c8" stroke="#2e97c8" stroke-width="1.5" stroke-linejoin="round"/><polygon points="1100.3,229.1 1116.6,238.4 1082.0,257.5 1065.7,248.2" fill="#3aa0ca" stroke="#3aa0ca" stroke-width="1.5" stroke-linejoin="round"/><polygon points="1082.0,257.5 1116.6,238.4 1116.6,284.4 1082.0,303.5" fill="url(#gTwR)"/><polygon points="1065.7,248.2 1082.0,257.5 1082.0,303.5 1065.7,294.2" fill="url(#gTwL)"/><polygon points="1065.7,250.2 1068.1,251.6 1068.1,295.6 1065.7,294.2" fill="#2884b4"/><polygon points="1082.0,257.5 1084.8,256.0 1084.8,302.0 1082.0,303.5" fill="#4fb0d8" opacity="0.6"/><text transform="matrix(1,-0.7180,0,1,1090.00,278.20)" font-size="5" font-weight="bold" fill="#e6f4fb" textLength="25" lengthAdjust="spacingAndGlyphs">存储服务器</text>
<polygon points="846.9,354.7 895.6,381.8 895.6,405.8 846.9,378.7" fill="#2a88b8" stroke="#2a88b8" stroke-width="1.5" stroke-linejoin="round"/><polygon points="895.6,381.8 918.4,369.8 918.4,393.8 895.6,405.8" fill="#3aa5d2" stroke="#3aa5d2" stroke-width="1.5" stroke-linejoin="round"/><polygon points="869.7,342.7 918.4,369.8 895.6,381.8 846.9,354.7" fill="#32a0cc" stroke="#32a0cc" stroke-width="1.5" stroke-linejoin="round"/><polyline points="849.3,365.1 893.2,389.4 893.2,389.4 849.3,365.1" stroke="#1f6d9a" stroke-width="1.2" fill="none"/><polygon points="859.1,371.5 893.2,390.4 893.2,393.4 859.1,374.5" fill="#1f6d9a"/>
<polygon points="966.0,351.4 982.3,361.2 982.3,405.7 966.0,395.9" fill="#2b8cbd" stroke="#2b8cbd" stroke-width="1.5" stroke-linejoin="round"/><polygon points="982.3,361.2 1017.0,340.6 1017.0,385.1 982.3,405.7" fill="#2e97c8" stroke="#2e97c8" stroke-width="1.5" stroke-linejoin="round"/><polygon points="1000.7,330.8 1017.0,340.6 982.3,361.2 966.0,351.4" fill="#3aa0ca" stroke="#3aa0ca" stroke-width="1.5" stroke-linejoin="round"/><polygon points="982.3,361.2 1017.0,340.6 1017.0,385.1 982.3,405.7" fill="url(#gTwR)"/><polygon points="966.0,351.4 982.3,361.2 982.3,405.7 966.0,395.9" fill="url(#gTwL)"/><polygon points="966.0,353.4 968.4,354.9 968.4,397.4 966.0,395.9" fill="#2884b4"/><polygon points="982.3,361.2 985.1,359.6 985.1,404.1 982.3,405.7" fill="#4fb0d8" opacity="0.6"/><text transform="matrix(1,-0.7715,0,1,990.30,381.22)" font-size="5" font-weight="bold" fill="#e6f4fb" textLength="25" lengthAdjust="spacingAndGlyphs">认证服务器</text>
<polygon points="1070.0,351.4 1086.3,361.2 1086.3,405.7 1070.0,395.9" fill="#2b8cbd" stroke="#2b8cbd" stroke-width="1.5" stroke-linejoin="round"/><polygon points="1086.3,361.2 1120.9,340.6 1120.9,385.1 1086.3,405.7" fill="#2e97c8" stroke="#2e97c8" stroke-width="1.5" stroke-linejoin="round"/><polygon points="1104.6,330.8 1120.9,340.6 1086.3,361.2 1070.0,351.4" fill="#3aa0ca" stroke="#3aa0ca" stroke-width="1.5" stroke-linejoin="round"/><polygon points="1086.3,361.2 1120.9,340.6 1120.9,385.1 1086.3,405.7" fill="url(#gTwR)"/><polygon points="1070.0,351.4 1086.3,361.2 1086.3,405.7 1070.0,395.9" fill="url(#gTwL)"/><polygon points="1070.0,353.4 1072.4,354.9 1072.4,397.4 1070.0,395.9" fill="#2884b4"/><polygon points="1086.3,361.2 1089.1,359.6 1089.1,404.1 1086.3,405.7" fill="#4fb0d8" opacity="0.6"/><text transform="matrix(1,-0.7744,0,1,1094.30,381.22)" font-size="5" font-weight="bold" fill="#e6f4fb" textLength="25" lengthAdjust="spacingAndGlyphs">管理服务器</text>
<text x="986" y="421.5" font-size="14.4" font-weight="bold" fill="#5b7fb5" text-anchor="middle">教育平台数据中心</text>
<g transform="translate(0,0)"><polygon points="66.0,729.6 81.8,739.0 81.8,745.5 66.0,736.1" fill="#2786b5" stroke="#2786b5" stroke-width="2" stroke-linejoin="round"/><polygon points="81.8,739.0 98.2,729.6 98.2,736.1 81.8,745.5" fill="#237cab" stroke="#237cab" stroke-width="2" stroke-linejoin="round"/><polygon points="82.4,720.2 98.2,729.6 81.8,739.0 66.0,729.6" fill="#2f98c5" stroke="#2f98c5" stroke-width="2" stroke-linejoin="round"/><g stroke="#fff" stroke-width="1" fill="none"><ellipse cx="78" cy="728" rx="2.2" ry="3.4"/><ellipse cx="87" cy="728" rx="2.2" ry="3.4"/></g><polygon points="82.4,726 79.5,733 85.3,733" fill="#fff"/><polyline points="69,734 76,738" stroke="#dff" stroke-width="1.3"/><g stroke="#2480b5" stroke-width="4" fill="none"><path d="M74,754.5 Q82.4,763 91,754"/><path d="M70,759.5 Q82.4,774 95,759"/><path d="M67,765 Q82.4,784.5 98.5,764.5"/></g><polygon points="43.3,776.3 63.5,785.1 62.2,800.9 42.7,792.7" fill="#2a90c8" stroke="#a9c7d8" stroke-width="0.8"/><polygon points="26.3,800.2 42.7,792.7 62.2,800.9 46.5,810.3" fill="#e9edf1" stroke="#b9c2ca" stroke-width="0.8"/><polygon points="34,799.5 43,795 56,801 47,806" fill="#3d3d3d"/><polygon points="88.5,801.5 113.5,785.5 129.0,794.0 104.0,810.0" fill="#e2e5e8" stroke="#8d949a" stroke-width="1.3" stroke-linejoin="round"/><polygon points="96.8,798.0 113.8,787.1 126.2,793.9 109.2,804.8" fill="#2f9fd0"/><polygon points="96.4,802.9 98.9,801.3 103.1,803.6 100.6,805.2" fill="#333"/><polygon points="152,729 163,721 170,719 194,732 194,761 186,764 170,757 160,758 152,753" fill="#2b8cc0"/><polygon points="152,729 163,721 172,726 161,734" fill="#3ea8d5"/><polygon points="152,729 161,734 161,758 152,753" fill="#2276aa"/><polygon points="167.5,727 193,738.5 193,760.5 168.4,748.6" fill="#1d4e70"/><polygon points="169.5,730 191,740 191,757.5 170,747.5" fill="#b9b9b9"/><polygon points="170,753 184,760 178,763.5 166,757" fill="#2379aa"/><polygon points="151,786 174,776 196,786 196,804 173,813.5 151,803" fill="#2b8cc0"/><polygon points="151,786 174,776 196,786 173,796" fill="#3aa3d0"/><polygon points="173,796 196,786 196,804 173,813.5" fill="#1f6896"/><polygon points="164,786 174,781 184,786 174,791" fill="#1e6e9d"/><polygon points="165.5,782 172.5,772 184,777 179.5,788" fill="#f2f2f2" stroke="#ccc" stroke-width="0.6"/><polygon points="237.7,737 268,720 278.7,725 278.7,737 251,753 240,747" fill="#2b8cc0"/><polygon points="237.7,737 268,720 278.7,725 248.5,742" fill="#3aa3d0"/><rect x="254" y="744" width="19.6" height="14" fill="#2a88bb"/><ellipse cx="263.8" cy="758" rx="9.8" ry="5.5" fill="#2b8cc0"/><ellipse cx="263.8" cy="744" rx="9.8" ry="4.5" fill="#3aa3d0" opacity="0.6"/><path d="M244.6,783 L278.7,783 Q278.7,812.5 261.6,812.5 Q244.6,812.5 244.6,783 Z" fill="#2b8cc0"/><ellipse cx="261.6" cy="783" rx="17" ry="7.5" fill="#3aa3d0"/><path d="M246,792 Q261.6,800 277,792" stroke="#2379aa" stroke-width="1" fill="none"/><polygon points="316.4,736.0 339.7,748.1 339.7,758.1 316.4,746.0" fill="#2786b5" stroke="#2786b5" stroke-width="2.5" stroke-linejoin="round"/><polygon points="339.7,748.1 361.1,736.6 361.1,746.6 339.7,758.1" fill="#237cab" stroke="#237cab" stroke-width="2.5" stroke-linejoin="round"/><polygon points="337.8,724.5 361.1,736.6 339.7,748.1 316.4,736.0" fill="#2f98c5" stroke="#2f98c5" stroke-width="2.5" stroke-linejoin="round"/><path d="M328,742 L333,737 Q335,730 343,730 Q351,731 350,738 Q345,744 335,740 Z" fill="#fff"/><ellipse cx="344" cy="735" rx="3" ry="2" fill="#f1c9b8" opacity="0.7"/><text transform="matrix(1,-0.7012,0,1,344.70,755.60)" font-size="5.5" font-weight="bold" fill="#fff" textLength="12" lengthAdjust="spacingAndGlyphs">VoIP</text><polygon points="314,789.8 333.3,775.2 339,778.3 361.7,793 361.7,801 346.6,809.7 316.3,796" fill="#2885b8" stroke="#2885b8" stroke-width="1.5" stroke-linejoin="round"/><polygon points="314,789.8 333.3,775.2 339,778.3 361.7,793 346.6,802 316,790.5" fill="#2f95c6"/><polygon points="318,789 332,779 338,782 324,792" fill="#1f6e9c"/><polygon points="331.7,798.6 347.7,788.2 360.3,794.8 359.8,795.9 343.8,805.3 332.8,803.1" fill="#f2f5f7"/><polygon points="338.9,795.9 349.9,790.9 356.5,794.2 346.6,799.8" fill="#1f5f88"/><ellipse cx="337.8" cy="802" rx="2.8" ry="2" fill="none" stroke="#1f5f88" stroke-width="1.1"/></g>
<g transform="translate(405.5,0)"><polygon points="66.0,729.6 81.8,739.0 81.8,745.5 66.0,736.1" fill="#2786b5" stroke="#2786b5" stroke-width="2" stroke-linejoin="round"/><polygon points="81.8,739.0 98.2,729.6 98.2,736.1 81.8,745.5" fill="#237cab" stroke="#237cab" stroke-width="2" stroke-linejoin="round"/><polygon points="82.4,720.2 98.2,729.6 81.8,739.0 66.0,729.6" fill="#2f98c5" stroke="#2f98c5" stroke-width="2" stroke-linejoin="round"/><g stroke="#fff" stroke-width="1" fill="none"><ellipse cx="78" cy="728" rx="2.2" ry="3.4"/><ellipse cx="87" cy="728" rx="2.2" ry="3.4"/></g><polygon points="82.4,726 79.5,733 85.3,733" fill="#fff"/><polyline points="69,734 76,738" stroke="#dff" stroke-width="1.3"/><g stroke="#2480b5" stroke-width="4" fill="none"><path d="M74,754.5 Q82.4,763 91,754"/><path d="M70,759.5 Q82.4,774 95,759"/><path d="M67,765 Q82.4,784.5 98.5,764.5"/></g><polygon points="43.3,776.3 63.5,785.1 62.2,800.9 42.7,792.7" fill="#2a90c8" stroke="#a9c7d8" stroke-width="0.8"/><polygon points="26.3,800.2 42.7,792.7 62.2,800.9 46.5,810.3" fill="#e9edf1" stroke="#b9c2ca" stroke-width="0.8"/><polygon points="34,799.5 43,795 56,801 47,806" fill="#3d3d3d"/><polygon points="88.5,801.5 113.5,785.5 129.0,794.0 104.0,810.0" fill="#e2e5e8" stroke="#8d949a" stroke-width="1.3" stroke-linejoin="round"/><polygon points="96.8,798.0 113.8,787.1 126.2,793.9 109.2,804.8" fill="#2f9fd0"/><polygon points="96.4,802.9 98.9,801.3 103.1,803.6 100.6,805.2" fill="#333"/><polygon points="152,729 163,721 170,719 194,732 194,761 186,764 170,757 160,758 152,753" fill="#2b8cc0"/><polygon points="152,729 163,721 172,726 161,734" fill="#3ea8d5"/><polygon points="152,729 161,734 161,758 152,753" fill="#2276aa"/><polygon points="167.5,727 193,738.5 193,760.5 168.4,748.6" fill="#1d4e70"/><polygon points="169.5,730 191,740 191,757.5 170,747.5" fill="#b9b9b9"/><polygon points="170,753 184,760 178,763.5 166,757" fill="#2379aa"/><polygon points="151,786 174,776 196,786 196,804 173,813.5 151,803" fill="#2b8cc0"/><polygon points="151,786 174,776 196,786 173,796" fill="#3aa3d0"/><polygon points="173,796 196,786 196,804 173,813.5" fill="#1f6896"/><polygon points="164,786 174,781 184,786 174,791" fill="#1e6e9d"/><polygon points="165.5,782 172.5,772 184,777 179.5,788" fill="#f2f2f2" stroke="#ccc" stroke-width="0.6"/><polygon points="237.7,737 268,720 278.7,725 278.7,737 251,753 240,747" fill="#2b8cc0"/><polygon points="237.7,737 268,720 278.7,725 248.5,742" fill="#3aa3d0"/><rect x="254" y="744" width="19.6" height="14" fill="#2a88bb"/><ellipse cx="263.8" cy="758" rx="9.8" ry="5.5" fill="#2b8cc0"/><ellipse cx="263.8" cy="744" rx="9.8" ry="4.5" fill="#3aa3d0" opacity="0.6"/><path d="M244.6,783 L278.7,783 Q278.7,812.5 261.6,812.5 Q244.6,812.5 244.6,783 Z" fill="#2b8cc0"/><ellipse cx="261.6" cy="783" rx="17" ry="7.5" fill="#3aa3d0"/><path d="M246,792 Q261.6,800 277,792" stroke="#2379aa" stroke-width="1" fill="none"/><polygon points="316.4,736.0 339.7,748.1 339.7,758.1 316.4,746.0" fill="#2786b5" stroke="#2786b5" stroke-width="2.5" stroke-linejoin="round"/><polygon points="339.7,748.1 361.1,736.6 361.1,746.6 339.7,758.1" fill="#237cab" stroke="#237cab" stroke-width="2.5" stroke-linejoin="round"/><polygon points="337.8,724.5 361.1,736.6 339.7,748.1 316.4,736.0" fill="#2f98c5" stroke="#2f98c5" stroke-width="2.5" stroke-linejoin="round"/><path d="M328,742 L333,737 Q335,730 343,730 Q351,731 350,738 Q345,744 335,740 Z" fill="#fff"/><ellipse cx="344" cy="735" rx="3" ry="2" fill="#f1c9b8" opacity="0.7"/><text transform="matrix(1,-0.7012,0,1,344.70,755.60)" font-size="5.5" font-weight="bold" fill="#fff" textLength="12" lengthAdjust="spacingAndGlyphs">VoIP</text><polygon points="314,789.8 333.3,775.2 339,778.3 361.7,793 361.7,801 346.6,809.7 316.3,796" fill="#2885b8" stroke="#2885b8" stroke-width="1.5" stroke-linejoin="round"/><polygon points="314,789.8 333.3,775.2 339,778.3 361.7,793 346.6,802 316,790.5" fill="#2f95c6"/><polygon points="318,789 332,779 338,782 324,792" fill="#1f6e9c"/><polygon points="331.7,798.6 347.7,788.2 360.3,794.8 359.8,795.9 343.8,805.3 332.8,803.1" fill="#f2f5f7"/><polygon points="338.9,795.9 349.9,790.9 356.5,794.2 346.6,799.8" fill="#1f5f88"/><ellipse cx="337.8" cy="802" rx="2.8" ry="2" fill="none" stroke="#1f5f88" stroke-width="1.1"/></g>
<g transform="translate(794.5,0)"><polygon points="66.0,729.6 81.8,739.0 81.8,745.5 66.0,736.1" fill="#2786b5" stroke="#2786b5" stroke-width="2" stroke-linejoin="round"/><polygon points="81.8,739.0 98.2,729.6 98.2,736.1 81.8,745.5" fill="#237cab" stroke="#237cab" stroke-width="2" stroke-linejoin="round"/><polygon points="82.4,720.2 98.2,729.6 81.8,739.0 66.0,729.6" fill="#2f98c5" stroke="#2f98c5" stroke-width="2" stroke-linejoin="round"/><g stroke="#fff" stroke-width="1" fill="none"><ellipse cx="78" cy="728" rx="2.2" ry="3.4"/><ellipse cx="87" cy="728" rx="2.2" ry="3.4"/></g><polygon points="82.4,726 79.5,733 85.3,733" fill="#fff"/><polyline points="69,734 76,738" stroke="#dff" stroke-width="1.3"/><g stroke="#2480b5" stroke-width="4" fill="none"><path d="M74,754.5 Q82.4,763 91,754"/><path d="M70,759.5 Q82.4,774 95,759"/><path d="M67,765 Q82.4,784.5 98.5,764.5"/></g><polygon points="43.3,776.3 63.5,785.1 62.2,800.9 42.7,792.7" fill="#2a90c8" stroke="#a9c7d8" stroke-width="0.8"/><polygon points="26.3,800.2 42.7,792.7 62.2,800.9 46.5,810.3" fill="#e9edf1" stroke="#b9c2ca" stroke-width="0.8"/><polygon points="34,799.5 43,795 56,801 47,806" fill="#3d3d3d"/><polygon points="88.5,801.5 113.5,785.5 129.0,794.0 104.0,810.0" fill="#e2e5e8" stroke="#8d949a" stroke-width="1.3" stroke-linejoin="round"/><polygon points="96.8,798.0 113.8,787.1 126.2,793.9 109.2,804.8" fill="#2f9fd0"/><polygon points="96.4,802.9 98.9,801.3 103.1,803.6 100.6,805.2" fill="#333"/><polygon points="152,729 163,721 170,719 194,732 194,761 186,764 170,757 160,758 152,753" fill="#2b8cc0"/><polygon points="152,729 163,721 172,726 161,734" fill="#3ea8d5"/><polygon points="152,729 161,734 161,758 152,753" fill="#2276aa"/><polygon points="167.5,727 193,738.5 193,760.5 168.4,748.6" fill="#1d4e70"/><polygon points="169.5,730 191,740 191,757.5 170,747.5" fill="#b9b9b9"/><polygon points="170,753 184,760 178,763.5 166,757" fill="#2379aa"/><polygon points="151,786 174,776 196,786 196,804 173,813.5 151,803" fill="#2b8cc0"/><polygon points="151,786 174,776 196,786 173,796" fill="#3aa3d0"/><polygon points="173,796 196,786 196,804 173,813.5" fill="#1f6896"/><polygon points="164,786 174,781 184,786 174,791" fill="#1e6e9d"/><polygon points="165.5,782 172.5,772 184,777 179.5,788" fill="#f2f2f2" stroke="#ccc" stroke-width="0.6"/><polygon points="237.7,737 268,720 278.7,725 278.7,737 251,753 240,747" fill="#2b8cc0"/><polygon points="237.7,737 268,720 278.7,725 248.5,742" fill="#3aa3d0"/><rect x="254" y="744" width="19.6" height="14" fill="#2a88bb"/><ellipse cx="263.8" cy="758" rx="9.8" ry="5.5" fill="#2b8cc0"/><ellipse cx="263.8" cy="744" rx="9.8" ry="4.5" fill="#3aa3d0" opacity="0.6"/><path d="M244.6,783 L278.7,783 Q278.7,812.5 261.6,812.5 Q244.6,812.5 244.6,783 Z" fill="#2b8cc0"/><ellipse cx="261.6" cy="783" rx="17" ry="7.5" fill="#3aa3d0"/><path d="M246,792 Q261.6,800 277,792" stroke="#2379aa" stroke-width="1" fill="none"/><polygon points="316.4,736.0 339.7,748.1 339.7,758.1 316.4,746.0" fill="#2786b5" stroke="#2786b5" stroke-width="2.5" stroke-linejoin="round"/><polygon points="339.7,748.1 361.1,736.6 361.1,746.6 339.7,758.1" fill="#237cab" stroke="#237cab" stroke-width="2.5" stroke-linejoin="round"/><polygon points="337.8,724.5 361.1,736.6 339.7,748.1 316.4,736.0" fill="#2f98c5" stroke="#2f98c5" stroke-width="2.5" stroke-linejoin="round"/><path d="M328,742 L333,737 Q335,730 343,730 Q351,731 350,738 Q345,744 335,740 Z" fill="#fff"/><ellipse cx="344" cy="735" rx="3" ry="2" fill="#f1c9b8" opacity="0.7"/><text transform="matrix(1,-0.7012,0,1,344.70,755.60)" font-size="5.5" font-weight="bold" fill="#fff" textLength="12" lengthAdjust="spacingAndGlyphs">VoIP</text><polygon points="314,789.8 333.3,775.2 339,778.3 361.7,793 361.7,801 346.6,809.7 316.3,796" fill="#2885b8" stroke="#2885b8" stroke-width="1.5" stroke-linejoin="round"/><polygon points="314,789.8 333.3,775.2 339,778.3 361.7,793 346.6,802 316,790.5" fill="#2f95c6"/><polygon points="318,789 332,779 338,782 324,792" fill="#1f6e9c"/><polygon points="331.7,798.6 347.7,788.2 360.3,794.8 359.8,795.9 343.8,805.3 332.8,803.1" fill="#f2f5f7"/><polygon points="338.9,795.9 349.9,790.9 356.5,794.2 346.6,799.8" fill="#1f5f88"/><ellipse cx="337.8" cy="802" rx="2.8" ry="2" fill="none" stroke="#1f5f88" stroke-width="1.1"/></g>
</svg>
</body></html>
